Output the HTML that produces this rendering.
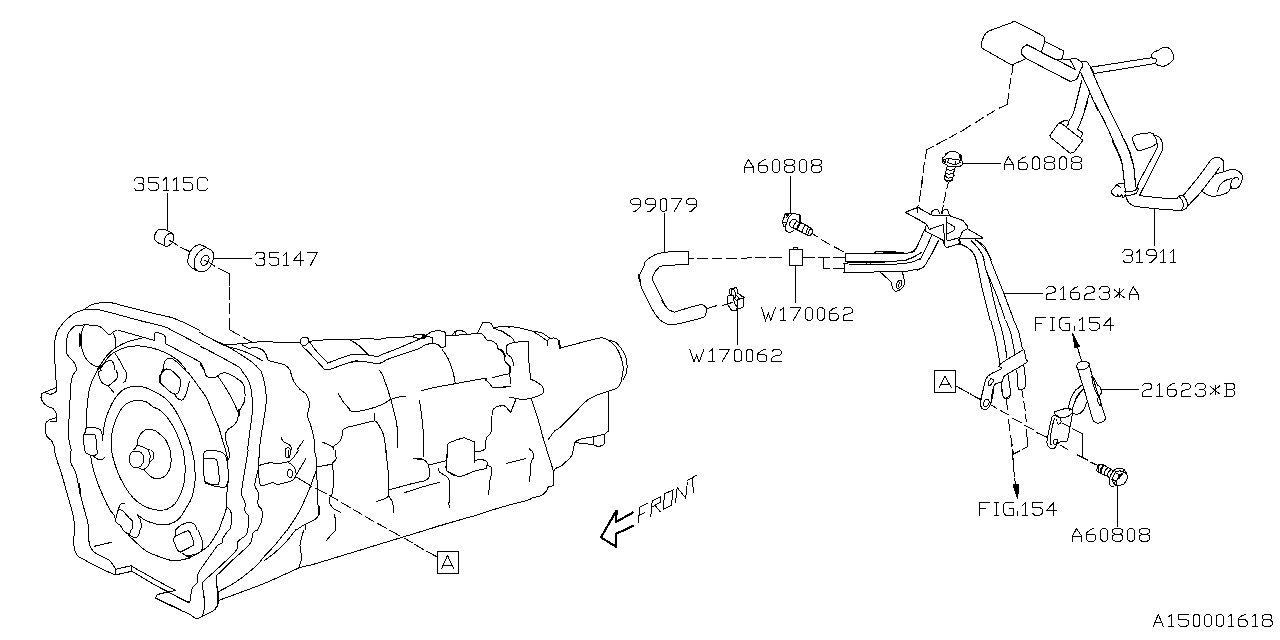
<!DOCTYPE html>
<html><head><meta charset="utf-8"><title>Diagram</title>
<style>
html,body{margin:0;padding:0;background:#fff;}
body{width:1280px;height:640px;overflow:hidden;font-family:"Liberation Sans",sans-serif;}
svg{display:block}
.l{fill:none;stroke:#000;stroke-width:1;stroke-linecap:round;stroke-linejoin:round;shape-rendering:crispEdges}
.k2{stroke-width:2}
.k3{stroke-width:2.6}
.d{stroke-dasharray:7 3}
.f{fill:#000}
.ar{stroke-width:2.2;stroke-linejoin:miter;stroke-linecap:butt}
.t{stroke-linecap:square;stroke-linejoin:miter}
</style></head><body>
<svg width="1280" height="640" viewBox="0 0 1280 640">
<path class="l " d="M55.62,370.00C55.48,368.33 54.96,364.17 54.75,360.00C54.54,355.83 54.02,349.58 54.38,345.00C54.73,340.42 55.52,336.04 56.88,332.50C58.23,328.96 59.90,326.77 62.50,323.75C65.10,320.73 70.00,316.35 72.50,314.38C75.00,312.40 75.73,312.60 77.50,311.88C79.27,311.15 80.83,311.15 83.12,310.00C85.42,308.85 88.23,306.25 91.25,305.00C94.27,303.75 98.12,302.92 101.25,302.50C104.38,302.08 105.62,301.77 110.00,302.50C114.38,303.23 120.42,305.10 127.50,306.88C134.58,308.65 145.21,311.35 152.50,313.12C159.79,314.90 166.04,315.94 171.25,317.50C176.46,319.06 178.96,320.31 183.75,322.50C188.54,324.69 197.29,329.27 200.00,330.62 M77.50,311.88C78.44,311.56 81.46,310.42 83.12,310.00C84.79,309.58 85.31,309.48 87.50,309.38C89.69,309.27 92.50,308.85 96.25,309.38C100.00,309.90 102.71,310.62 110.00,312.50C117.29,314.38 130.83,318.23 140.00,320.62C149.17,323.02 159.79,325.31 165.00,326.88C170.21,328.44 165.42,326.98 171.25,330.00C177.08,333.02 195.21,342.50 200.00,345.00 M76.25,370.00C76.04,368.96 76.56,366.46 75.00,363.75C73.44,361.04 68.33,357.08 66.88,353.75C65.42,350.42 66.04,347.08 66.25,343.75C66.46,340.42 67.08,336.35 68.12,333.75C69.17,331.15 70.94,329.52 72.50,328.12C74.06,326.73 73.75,325.83 77.50,325.38C81.25,324.92 91.04,325.02 95.00,325.38C98.96,325.73 99.06,326.06 101.25,327.50C103.44,328.94 106.46,332.96 108.12,334.00C109.79,335.04 110.52,334.00 111.25,333.75C111.98,333.50 112.29,332.71 112.50,332.50C113.12,332.12 115.00,330.56 116.25,330.25C117.50,329.94 115.42,329.42 120.00,330.62C124.58,331.83 138.23,335.94 143.75,337.50C149.27,339.06 151.56,339.58 153.12,340.00L154.75,340.25L155.00,333.12C155.42,333.02 156.04,332.19 157.50,332.50C158.96,332.81 162.40,334.17 163.75,335.00C165.10,335.83 165.31,337.08 165.62,337.50L165.62,343.75L200.00,361.88 M84.38,325.62C83.96,326.56 82.40,328.02 81.88,331.25C81.35,334.48 81.04,341.46 81.25,345.00C81.46,348.54 82.19,350.00 83.12,352.50C84.06,355.00 85.10,357.81 86.88,360.00C88.65,362.19 91.88,364.54 93.75,365.62C95.62,366.71 97.40,366.35 98.12,366.50 M96.88,370.00C97.60,368.96 99.48,366.25 101.25,363.75C103.02,361.25 105.00,357.71 107.50,355.00C110.00,352.29 112.92,349.69 116.25,347.50C119.58,345.31 122.92,343.54 127.50,341.88C132.08,340.21 141.04,338.23 143.75,337.50 M100.00,370.00C101.25,368.02 105.00,361.15 107.50,358.12C110.00,355.10 111.67,353.75 115.00,351.88C118.33,350.00 123.33,347.85 127.50,346.88C131.67,345.90 135.83,345.79 140.00,346.00C144.17,346.21 148.33,347.04 152.50,348.12C156.67,349.21 160.83,350.52 165.00,352.50C169.17,354.48 173.96,357.08 177.50,360.00C181.04,362.92 184.79,368.33 186.25,370.00 M112.50,332.50C112.92,333.33 114.42,335.00 115.00,337.50C115.58,340.00 115.83,345.83 116.00,347.50 M115.00,353.12C115.83,354.48 118.44,358.44 120.00,361.25C121.56,364.06 123.65,368.54 124.38,370.00 M97.50,370.00C98.33,369.17 100.83,366.46 102.50,365.00C104.17,363.54 106.04,361.98 107.50,361.25C108.96,360.52 110.21,360.21 111.25,360.62C112.29,361.04 113.12,362.19 113.75,363.75C114.38,365.31 114.79,368.96 115.00,370.00 M163.12,370.00C163.44,368.54 163.75,363.23 165.00,361.25C166.25,359.27 168.54,357.92 170.62,358.12C172.71,358.33 175.10,360.52 177.50,362.50C179.90,364.48 183.75,368.75 185.00,370.00 M55.62,370.00C55.67,371.25 55.73,374.58 55.88,377.50C56.02,380.42 56.40,385.83 56.50,387.50L41.88,393.38C41.73,394.06 40.79,395.98 41.00,397.50C41.21,399.02 42.04,401.04 43.12,402.50C44.21,403.96 45.83,405.21 47.50,406.25C49.17,407.29 51.71,407.60 53.12,408.75C54.54,409.90 55.44,411.67 56.00,413.12C56.56,414.58 56.42,416.77 56.50,417.50C55.21,417.96 50.56,419.21 48.75,420.25C46.94,421.29 46.21,422.12 45.62,423.75C45.04,425.38 45.04,427.92 45.25,430.00C45.46,432.08 45.77,434.38 46.88,436.25C47.98,438.12 50.62,439.38 51.88,441.25C53.12,443.12 53.85,446.04 54.38,447.50C54.90,448.96 54.90,449.58 55.00,450.00 M56.50,387.50C56.46,388.12 56.92,390.21 56.25,391.25C55.58,392.29 53.75,393.29 52.50,393.75C51.25,394.21 50.00,394.17 48.75,394.00C47.50,393.83 45.62,392.96 45.00,392.75 M56.50,417.50L56.50,421.50L50.62,421.50 M76.88,370.00C76.15,371.04 73.54,373.54 72.50,376.25C71.46,378.96 71.08,381.04 70.62,386.25C70.17,391.46 70.10,400.62 69.75,407.50C69.40,414.38 68.67,422.29 68.50,427.50C68.33,432.71 68.29,435.00 68.75,438.75C69.21,442.50 70.83,448.12 71.25,450.00 M97.50,370.00C96.67,371.67 93.96,376.25 92.50,380.00C91.04,383.75 89.69,387.50 88.75,392.50C87.81,397.50 87.33,403.96 86.88,410.00C86.42,416.04 86.15,425.62 86.00,428.75 M86.00,428.75C86.46,428.54 87.25,427.67 88.75,427.50C90.25,427.33 93.02,427.33 95.00,427.75C96.98,428.17 99.42,428.79 100.62,430.00C101.83,431.21 101.94,433.23 102.25,435.00C102.56,436.77 102.46,439.69 102.50,440.62 M86.00,428.75C85.83,429.38 85.38,431.50 85.00,432.50C84.62,433.50 83.96,434.38 83.75,434.75L95.00,434.75C95.21,435.62 95.94,437.46 96.25,440.00C96.56,442.54 96.77,448.33 96.88,450.00 M83.75,434.75C83.71,435.62 83.33,437.46 83.50,440.00C83.67,442.54 84.54,448.33 84.75,450.00 M102.50,440.62C102.71,438.65 103.12,432.60 103.75,428.75C104.38,424.90 105.00,421.46 106.25,417.50C107.50,413.54 109.38,408.75 111.25,405.00C113.12,401.25 115.21,397.71 117.50,395.00C119.79,392.29 122.19,390.21 125.00,388.75C127.81,387.29 131.04,386.46 134.38,386.25C137.71,386.04 141.56,386.56 145.00,387.50C148.44,388.44 151.67,390.10 155.00,391.88C158.33,393.65 162.08,395.73 165.00,398.12C167.92,400.52 170.00,402.81 172.50,406.25C175.00,409.69 177.71,414.38 180.00,418.75C182.29,423.12 184.69,428.75 186.25,432.50C187.81,436.25 188.75,439.38 189.38,441.25C190.00,443.12 189.90,443.33 190.00,443.75 M111.25,450.00C111.25,448.33 111.04,443.33 111.25,440.00C111.46,436.67 111.67,433.54 112.50,430.00C113.33,426.46 114.58,422.50 116.25,418.75C117.92,415.00 120.21,410.31 122.50,407.50C124.79,404.69 127.40,403.06 130.00,401.88C132.60,400.69 135.42,400.38 138.12,400.38C140.83,400.38 143.75,400.79 146.25,401.88C148.75,402.96 150.83,405.48 153.12,406.88C155.42,408.27 157.81,408.69 160.00,410.25C162.19,411.81 163.96,413.38 166.25,416.25C168.54,419.12 171.56,423.54 173.75,427.50C175.94,431.46 177.92,436.25 179.38,440.00C180.83,443.75 181.98,448.33 182.50,450.00 M133.75,450.00C134.33,449.17 136.52,446.88 137.25,445.00C137.98,443.12 137.35,440.83 138.12,438.75C138.90,436.67 140.31,434.10 141.88,432.50C143.44,430.90 145.31,429.44 147.50,429.12C149.69,428.81 152.92,429.75 155.00,430.62C157.08,431.50 158.33,433.02 160.00,434.38C161.67,435.73 163.65,436.98 165.00,438.75C166.35,440.52 167.29,443.12 168.12,445.00C168.96,446.88 169.69,449.17 170.00,450.00 M137.25,445.62C137.92,445.73 139.75,445.73 141.25,446.25C142.75,446.77 144.79,448.12 146.25,448.75C147.71,449.38 149.38,449.79 150.00,450.00 M101.88,370.00C101.56,370.21 100.62,370.73 100.00,371.25C99.38,371.77 97.81,371.25 98.12,373.12C98.44,375.00 100.21,380.35 101.88,382.50C103.54,384.65 106.15,384.33 108.12,386.00C110.10,387.67 112.81,391.42 113.75,392.50 M108.12,386.00C109.48,384.90 114.69,381.21 116.25,379.38C117.81,377.54 117.50,376.56 117.50,375.00C117.50,373.44 116.46,370.83 116.25,370.00 M125.62,370.00C125.77,370.94 126.50,373.85 126.50,375.62C126.50,377.40 126.19,379.48 125.62,380.62C125.06,381.77 123.54,382.19 123.12,382.50 M162.50,370.00L160.00,376.25 M160.00,382.50C161.88,384.17 168.23,390.73 171.25,392.50C174.27,394.27 176.56,394.79 178.12,393.12C179.69,391.46 180.31,384.90 180.62,382.50C180.94,380.10 181.56,380.83 180.00,378.75C178.44,376.67 172.71,371.46 171.25,370.00 M174.38,394.38C175.10,395.21 177.29,398.54 178.75,399.38C180.21,400.21 181.88,400.31 183.12,399.38C184.38,398.44 185.31,396.35 186.25,393.75C187.19,391.15 188.12,385.83 188.75,383.75C189.38,381.67 189.79,381.67 190.00,381.25 M185.00,370.00L190.00,374.38 M190.00,375.00C191.25,376.67 194.79,381.25 197.50,385.00C200.21,388.75 203.75,392.92 206.25,397.50C208.75,402.08 210.42,407.50 212.50,412.50C214.58,417.50 216.98,422.50 218.75,427.50C220.52,432.50 221.98,438.75 223.12,442.50C224.27,446.25 225.21,448.75 225.62,450.00 M204.38,370.00C204.58,370.83 204.90,373.75 205.62,375.00C206.35,376.25 206.98,377.19 208.75,377.50C210.52,377.81 214.17,377.54 216.25,376.88C218.33,376.21 219.38,374.08 221.25,373.50C223.12,372.92 224.38,372.19 227.50,373.38C230.62,374.56 237.25,378.48 240.00,380.62C242.75,382.77 243.21,383.02 244.00,386.25C244.79,389.48 245.21,396.46 244.75,400.00C244.29,403.54 242.15,405.62 241.25,407.50C240.35,409.38 240.10,408.96 239.38,411.25C238.65,413.54 238.02,418.75 236.88,421.25C235.73,423.75 234.06,424.79 232.50,426.25C230.94,427.71 228.69,428.54 227.50,430.00C226.31,431.46 225.58,432.92 225.38,435.00C225.17,437.08 225.79,440.42 226.25,442.50C226.71,444.58 227.75,446.25 228.12,447.50C228.50,448.75 228.44,449.58 228.50,450.00 M217.50,375.62C218.96,377.81 223.54,384.27 226.25,388.75C228.96,393.23 231.77,398.54 233.75,402.50C235.73,406.46 237.40,410.83 238.12,412.50 M241.25,370.00C242.50,371.88 246.98,377.08 248.75,381.25C250.52,385.42 251.29,389.79 251.88,395.00C252.46,400.21 252.56,406.67 252.25,412.50C251.94,418.33 250.79,423.75 250.00,430.00C249.21,436.25 247.92,446.67 247.50,450.00 M260.62,370.00C261.25,372.08 263.44,377.50 264.38,382.50C265.31,387.50 266.35,393.75 266.25,400.00C266.15,406.25 264.58,414.17 263.75,420.00C262.92,425.83 262.02,430.00 261.25,435.00C260.48,440.00 259.48,447.50 259.12,450.00 M290.00,370.00C290.62,371.88 292.19,378.12 293.75,381.25C295.31,384.38 297.29,386.56 299.38,388.75C301.46,390.94 304.58,392.08 306.25,394.38C307.92,396.67 308.96,399.90 309.38,402.50C309.79,405.10 309.10,407.81 308.75,410.00C308.40,412.19 306.94,413.12 307.25,415.62C307.56,418.12 309.54,421.35 310.62,425.00C311.71,428.65 313.02,433.33 313.75,437.50C314.48,441.67 314.79,447.92 315.00,450.00 M338.12,393.12C339.06,394.69 341.77,399.79 343.75,402.50C345.73,405.21 348.96,408.23 350.00,409.38 M281.25,437.50C281.56,438.12 281.88,440.10 283.12,441.25C284.38,442.40 287.40,443.33 288.75,444.38C290.10,445.42 290.73,446.56 291.25,447.50C291.77,448.44 291.77,449.58 291.88,450.00 M303.75,440.25L296.88,450.00 M322.50,442.12C324.17,442.92 330.62,445.56 332.50,446.88C334.38,448.19 333.54,449.48 333.75,450.00 M332.50,446.88C333.65,446.04 337.81,443.65 339.38,441.88C340.94,440.10 341.25,438.23 341.88,436.25C342.50,434.27 342.40,431.42 343.12,430.00C343.85,428.58 345.10,428.33 346.25,427.75C347.40,427.17 349.38,426.71 350.00,426.50 M190.00,441.88L191.88,450.00 M54.38,450.00C54.79,451.67 55.62,455.83 56.88,460.00C58.12,464.17 60.10,469.17 61.88,475.00C63.65,480.83 65.73,488.75 67.50,495.00C69.27,501.25 71.35,507.71 72.50,512.50C73.65,517.29 74.06,520.83 74.38,523.75C74.69,526.67 74.38,528.96 74.38,530.00 M71.25,450.00C71.08,451.04 70.25,453.96 70.25,456.25C70.25,458.54 70.35,461.04 71.25,463.75C72.15,466.46 74.48,469.17 75.62,472.50C76.77,475.83 77.40,480.42 78.12,483.75C78.85,487.08 79.06,488.54 80.00,492.50C80.94,496.46 82.50,502.71 83.75,507.50C85.00,512.29 86.67,517.50 87.50,521.25C88.33,525.00 88.54,528.54 88.75,530.00 M84.75,450.00C85.00,450.52 85.17,452.25 86.25,453.12C87.33,454.00 89.48,455.04 91.25,455.25C93.02,455.46 95.79,455.25 96.88,454.38C97.96,453.50 97.60,450.73 97.75,450.00 M92.50,455.62C93.33,456.19 95.83,458.38 97.50,459.00C99.17,459.62 101.29,459.67 102.50,459.38C103.71,459.08 104.38,457.60 104.75,457.25 M90.62,455.62C90.94,457.40 91.35,461.77 92.50,466.25C93.65,470.73 95.62,477.29 97.50,482.50C99.38,487.71 101.67,492.92 103.75,497.50C105.83,502.08 108.23,506.98 110.00,510.00C111.77,513.02 113.44,513.75 114.38,515.62C115.31,517.50 115.42,520.31 115.62,521.25 M111.25,450.00C111.77,452.08 112.92,457.92 114.38,462.50C115.83,467.08 117.60,472.50 120.00,477.50C122.40,482.50 125.83,488.44 128.75,492.50C131.67,496.56 134.17,499.27 137.50,501.88C140.83,504.48 145.21,506.73 148.75,508.12C152.29,509.52 155.62,510.10 158.75,510.25C161.88,510.40 164.79,510.08 167.50,509.00C170.21,507.92 172.81,506.29 175.00,503.75C177.19,501.21 179.06,497.50 180.62,493.75C182.19,490.00 183.65,486.04 184.38,481.25C185.10,476.46 185.21,470.21 185.00,465.00C184.79,459.79 183.44,452.50 183.12,450.00 M170.62,450.00C170.69,452.08 171.31,458.96 171.00,462.50C170.69,466.04 169.96,468.85 168.75,471.25C167.54,473.65 165.62,475.62 163.75,476.88C161.88,478.12 159.58,478.75 157.50,478.75C155.42,478.75 153.54,478.44 151.25,476.88C148.96,475.31 145.00,470.62 143.75,469.38 M136.25,451.00C137.08,451.25 140.00,451.17 141.25,452.50C142.50,453.83 143.75,456.81 143.75,459.00C143.75,461.19 142.50,464.21 141.25,465.62C140.00,467.04 137.92,467.50 136.25,467.50C134.58,467.50 132.44,467.04 131.25,465.62C130.06,464.21 129.12,461.19 129.12,459.00C129.12,456.81 130.06,453.83 131.25,452.50C132.44,451.17 135.42,451.25 136.25,451.00 M138.12,467.50C138.85,467.81 140.94,469.48 142.50,469.38C144.06,469.27 146.25,468.12 147.50,466.88C148.75,465.62 149.06,463.23 150.00,461.88C150.94,460.52 152.50,460.10 153.12,458.75C153.75,457.40 154.06,455.21 153.75,453.75C153.44,452.29 151.67,450.62 151.25,450.00 M148.12,450.00C148.44,450.83 149.73,452.92 150.00,455.00C150.27,457.08 149.79,461.25 149.75,462.50 M124.75,503.38C124.17,503.44 122.25,502.96 121.25,503.75C120.25,504.54 119.69,505.21 118.75,508.12C117.81,511.04 115.42,518.44 115.62,521.25C115.83,524.06 118.75,523.54 120.00,525.00C121.25,526.46 122.60,529.17 123.12,530.00 M118.75,508.75C119.48,509.17 121.46,509.79 123.12,511.25C124.79,512.71 127.15,515.73 128.75,517.50C130.35,519.27 132.23,519.79 132.75,521.88C133.27,523.96 132.02,528.65 131.88,530.00 M140.62,530.00C140.73,529.17 141.35,526.77 141.25,525.00C141.15,523.23 140.62,521.04 140.00,519.38C139.38,517.71 136.67,514.90 137.50,515.00C138.33,515.10 142.08,518.54 145.00,520.00C147.92,521.46 151.67,522.96 155.00,523.75C158.33,524.54 161.88,524.96 165.00,524.75C168.12,524.54 171.25,523.71 173.75,522.50C176.25,521.29 178.12,519.58 180.00,517.50C181.88,515.42 183.33,512.71 185.00,510.00C186.67,507.29 189.17,502.71 190.00,501.25 M175.62,530.00C176.56,529.17 178.85,526.35 181.25,525.00C183.65,523.65 188.54,522.40 190.00,521.88 M191.88,450.00C192.29,452.08 193.85,457.29 194.38,462.50C194.90,467.71 195.31,475.83 195.00,481.25C194.69,486.67 193.33,491.56 192.50,495.00C191.67,498.44 190.42,500.73 190.00,501.88 M203.75,457.50C203.71,456.88 203.08,454.83 203.50,453.75C203.92,452.67 204.33,451.52 206.25,451.00C208.17,450.48 212.29,450.38 215.00,450.62C217.71,450.88 220.73,451.56 222.50,452.50C224.27,453.44 224.83,454.58 225.62,456.25C226.42,457.92 226.98,461.46 227.25,462.50 M203.75,457.50C203.85,461.25 203.54,475.52 204.38,480.00C205.21,484.48 205.94,483.17 208.75,484.38C211.56,485.58 218.33,486.94 221.25,487.25C224.17,487.56 225.21,487.25 226.25,486.25C227.29,485.25 227.29,482.08 227.50,481.25 M204.00,458.75C205.00,458.65 208.06,458.02 210.00,458.12C211.94,458.23 214.33,458.44 215.62,459.38C216.92,460.31 217.19,459.90 217.75,463.75C218.31,467.60 219.35,479.06 219.00,482.50C218.65,485.94 217.12,484.12 215.62,484.38C214.12,484.62 211.67,484.42 210.00,484.00C208.33,483.58 206.35,482.23 205.62,481.88 M225.62,450.00C225.94,451.67 227.08,454.79 227.50,460.00C227.92,465.21 228.23,475.62 228.12,481.25C228.02,486.88 227.15,489.38 226.88,493.75C226.60,498.12 227.23,503.12 226.50,507.50C225.77,511.88 223.75,516.25 222.50,520.00C221.25,523.75 219.58,528.33 219.00,530.00 M228.12,450.00C228.40,450.83 229.69,453.44 229.75,455.00C229.81,456.56 228.71,458.65 228.50,459.38 M226.50,506.25C227.19,507.08 229.73,509.38 230.62,511.25C231.52,513.12 231.88,514.79 231.88,517.50C231.88,520.21 231.04,525.42 230.62,527.50C230.21,529.58 229.58,529.58 229.38,530.00 M248.12,450.00C247.60,453.12 246.04,462.29 245.00,468.75C243.96,475.21 242.50,484.58 241.88,488.75C241.25,492.92 240.73,491.46 241.25,493.75C241.77,496.04 244.38,499.58 245.00,502.50C245.62,505.42 244.38,508.96 245.00,511.25C245.62,513.54 248.17,513.96 248.75,516.25C249.33,518.54 248.71,522.71 248.50,525.00C248.29,527.29 247.67,529.17 247.50,530.00 M260.00,450.00C259.69,452.50 258.44,461.67 258.12,465.00C257.81,468.33 258.69,466.67 258.12,470.00C257.56,473.33 254.75,481.25 254.75,485.00C254.75,488.75 257.56,489.17 258.12,492.50C258.69,495.83 257.50,502.08 258.12,505.00C258.75,507.92 261.31,507.29 261.88,510.00C262.44,512.71 262.23,517.92 261.50,521.25C260.77,524.58 258.17,528.54 257.50,530.00 M258.12,465.62C260.31,465.10 268.44,462.77 271.25,462.50C274.06,462.23 272.29,464.10 275.00,464.00C277.71,463.90 284.69,462.65 287.50,461.88C290.31,461.10 290.00,461.35 291.88,459.38C293.75,457.40 297.60,451.56 298.75,450.00 M258.50,470.00C258.71,472.29 258.88,481.21 259.75,483.75C260.62,486.29 261.62,485.42 263.75,485.25C265.88,485.08 270.21,482.90 272.50,482.75C274.79,482.60 274.79,484.52 277.50,484.38C280.21,484.23 286.15,482.60 288.75,481.88C291.35,481.15 291.92,481.15 293.12,480.00C294.33,478.85 295.69,476.88 296.00,475.00C296.31,473.12 295.79,470.52 295.00,468.75C294.21,466.98 292.40,465.42 291.25,464.38C290.10,463.33 288.65,462.81 288.12,462.50 M290.00,469.50C290.38,469.79 291.83,470.44 292.25,471.25C292.67,472.06 292.67,473.38 292.50,474.38C292.33,475.38 291.77,476.73 291.25,477.25C290.73,477.77 289.96,477.77 289.38,477.50C288.79,477.23 288.06,476.46 287.75,475.62C287.44,474.79 287.38,473.44 287.50,472.50C287.62,471.56 288.08,470.50 288.50,470.00C288.92,469.50 289.75,469.58 290.00,469.50 M285.62,448.50C285.56,449.17 285.19,451.10 285.25,452.50C285.31,453.90 285.31,456.08 286.00,456.88C286.69,457.67 288.67,457.98 289.38,457.25C290.08,456.52 290.19,453.96 290.25,452.50C290.31,451.04 290.17,449.29 289.75,448.50C289.33,447.71 288.44,447.75 287.75,447.75C287.06,447.75 285.98,448.38 285.62,448.50 M288.75,450.62L288.75,456.25 M305.62,459.00L296.25,475.00 M314.38,450.00C314.79,452.08 316.56,458.75 316.88,462.50C317.19,466.25 316.10,468.33 316.25,472.50C316.40,476.67 317.54,482.50 317.75,487.50C317.96,492.50 317.23,498.96 317.50,502.50C317.77,506.04 319.17,506.67 319.38,508.75C319.58,510.83 319.48,513.23 318.75,515.00C318.02,516.77 317.29,517.81 315.00,519.38C312.71,520.94 308.12,522.60 305.00,524.38C301.88,526.15 297.71,529.06 296.25,530.00 M316.88,466.88C318.65,466.56 324.90,465.52 327.50,465.00C330.10,464.48 331.67,463.96 332.50,463.75 M335.00,450.00C335.17,451.46 336.42,456.46 336.00,458.75C335.58,461.04 332.92,461.04 332.50,463.75C332.08,466.46 333.50,470.21 333.50,475.00C333.50,479.79 333.12,488.75 332.50,492.50C331.88,496.25 330.17,495.62 329.75,497.50C329.33,499.38 329.33,501.88 330.00,503.75C330.67,505.62 331.98,507.35 333.75,508.75C335.52,510.15 339.48,511.56 340.62,512.12 M315.62,471.88C314.69,474.48 312.60,481.15 310.00,487.50C307.40,493.85 303.75,502.92 300.00,510.00C296.25,517.08 289.58,526.67 287.50,530.00 M305.00,524.38L305.62,530.00 M334.38,514.38C334.58,515.52 335.42,518.65 335.62,521.25C335.83,523.85 335.62,528.54 335.62,530.00 M190.00,522.50C190.62,522.71 192.75,523.02 193.75,523.75C194.75,524.48 195.58,525.83 196.00,526.88C196.42,527.92 196.21,529.48 196.25,530.00 M74.75,530.00C74.58,531.67 73.81,536.88 73.75,540.00C73.69,543.12 73.75,546.15 74.38,548.75C75.00,551.35 75.94,553.85 77.50,555.62C79.06,557.40 80.83,557.71 83.75,559.38C86.67,561.04 89.79,563.02 95.00,565.62C100.21,568.23 111.67,573.44 115.00,575.00L131.88,571.25L131.25,565.62L115.62,569.38L115.00,575.00 M88.50,530.00C88.54,531.67 88.29,536.88 88.75,540.00C89.21,543.12 89.79,546.35 91.25,548.75C92.71,551.15 94.58,552.50 97.50,554.38C100.42,556.25 106.15,558.23 108.75,560.00C111.35,561.77 111.98,563.44 113.12,565.00C114.27,566.56 115.21,568.65 115.62,569.38 M94.38,546.25L111.88,542.25 M131.25,566.00C135.21,568.23 147.60,575.27 155.00,579.38C162.40,583.48 172.19,588.75 175.62,590.62C174.17,590.90 169.90,591.56 166.88,592.25C163.85,592.94 159.38,593.77 157.50,594.75C155.62,595.73 155.94,597.56 155.62,598.12L181.25,610.00 M131.88,571.25C135.73,573.54 149.17,581.67 155.00,585.00C160.83,588.33 161.67,588.54 166.88,591.25C172.08,593.96 182.40,599.54 186.25,601.25C190.10,602.96 189.38,601.46 190.00,601.50 M123.12,530.00C123.85,530.62 126.35,533.23 127.50,533.75C128.65,534.27 129.48,533.75 130.00,533.12C130.52,532.50 130.52,530.52 130.62,530.00 M127.50,533.75C128.54,534.38 132.08,536.98 133.75,537.50C135.42,538.02 136.56,537.71 137.50,536.88C138.44,536.04 138.96,533.65 139.38,532.50C139.79,531.35 139.90,530.42 140.00,530.00 M128.75,535.62C130.21,536.98 134.38,541.04 137.50,543.75C140.62,546.46 143.75,549.69 147.50,551.88C151.25,554.06 156.04,555.46 160.00,556.88C163.96,558.29 167.71,559.85 171.25,560.38C174.79,560.90 178.12,560.38 181.25,560.00C184.38,559.62 188.54,558.44 190.00,558.12 M150.00,553.12C151.67,553.75 156.46,555.67 160.00,556.88C163.54,558.08 167.71,559.85 171.25,560.38C174.79,560.90 177.92,560.58 181.25,560.00C184.58,559.42 188.12,558.23 191.25,556.88C194.38,555.52 197.19,553.65 200.00,551.88C202.81,550.10 205.62,548.85 208.12,546.25C210.62,543.65 213.23,538.96 215.00,536.25C216.77,533.54 218.12,531.04 218.75,530.00 M175.62,530.00L175.00,536.25L173.12,539.38C173.75,540.94 175.73,546.60 176.88,548.75C178.02,550.90 179.48,551.67 180.00,552.25L193.12,545.62C193.23,545.10 194.27,544.69 193.75,542.50C193.23,540.31 191.04,534.48 190.00,532.50C188.96,530.52 187.92,530.94 187.50,530.62L175.00,536.25 M182.50,553.12C182.92,553.44 183.33,554.69 185.00,555.00C186.67,555.31 190.42,555.21 192.50,555.00C194.58,554.79 195.94,554.58 197.50,553.75C199.06,552.92 201.00,551.88 201.88,550.00C202.75,548.12 203.06,545.00 202.75,542.50C202.44,540.00 200.77,537.08 200.00,535.00C199.23,532.92 198.44,530.83 198.12,530.00 M186.25,556.25L191.25,556.88 M228.75,530.00C228.12,530.83 226.04,533.44 225.00,535.00C223.96,536.56 223.02,538.02 222.50,539.38C221.98,540.73 222.71,542.08 221.88,543.12C221.04,544.17 219.06,544.06 217.50,545.62C215.94,547.19 214.38,549.90 212.50,552.50C210.62,555.10 208.65,557.71 206.25,561.25C203.85,564.79 199.62,570.21 198.12,573.75C196.62,577.29 198.19,580.21 197.25,582.50C196.31,584.79 193.60,585.21 192.50,587.50C191.40,589.79 191.04,593.96 190.62,596.25C190.21,598.54 190.62,600.31 190.00,601.25C189.38,602.19 190.10,603.23 186.88,601.88C183.65,600.52 173.33,594.58 170.62,593.12 M247.50,530.00C247.29,530.83 247.60,533.33 246.25,535.00C244.90,536.67 240.83,538.75 239.38,540.00C237.92,541.25 237.92,540.94 237.50,542.50C237.08,544.06 238.12,546.98 236.88,549.38C235.62,551.77 233.23,553.65 230.00,556.88C226.77,560.10 221.88,564.69 217.50,568.75C213.12,572.81 206.29,578.54 203.75,581.25C201.21,583.96 202.21,582.50 202.25,585.00C202.29,587.50 203.65,592.08 204.00,596.25C204.35,600.42 204.31,607.71 204.38,610.00 M256.88,530.00C256.15,530.62 253.44,531.77 252.50,533.75C251.56,535.73 252.71,539.17 251.25,541.88C249.79,544.58 247.29,546.56 243.75,550.00C240.21,553.44 233.96,558.75 230.00,562.50C226.04,566.25 222.29,570.10 220.00,572.50C217.71,574.90 216.77,574.38 216.25,576.88C215.73,579.38 216.56,584.90 216.88,587.50C217.19,590.10 217.96,589.58 218.12,592.50C218.29,595.42 218.50,602.08 217.88,605.00C217.25,607.92 214.96,609.17 214.38,610.00 M286.88,530.00C284.90,532.50 278.65,540.73 275.00,545.00C271.35,549.27 267.71,552.60 265.00,555.62C262.29,558.65 261.25,560.52 258.75,563.12C256.25,565.73 253.96,568.02 250.00,571.25C246.04,574.48 240.31,579.06 235.00,582.50C229.69,585.94 220.94,590.31 218.12,591.88 M295.62,530.00C293.85,532.19 288.44,539.38 285.00,543.12C281.56,546.88 278.44,549.58 275.00,552.50C271.56,555.42 266.15,559.27 264.38,560.62 M303.75,530.00C303.12,532.50 300.35,540.42 300.00,545.00C299.65,549.58 301.83,553.65 301.62,557.50C301.42,561.35 299.23,566.35 298.75,568.12 M218.12,600.62C225.94,597.71 251.56,588.54 265.00,583.12C278.44,577.71 291.25,571.08 298.75,568.12C306.25,565.17 308.12,565.83 310.00,565.38 M155.62,598.50C157.40,599.33 162.19,601.58 166.25,603.50C170.31,605.42 176.04,608.19 180.00,610.00C183.96,611.81 187.71,613.17 190.00,614.38C192.29,615.58 192.50,616.56 193.75,617.25C195.00,617.94 196.04,618.67 197.50,618.50C198.96,618.33 201.67,616.62 202.50,616.25 M202.50,616.25C202.81,614.79 204.17,611.04 204.38,607.50C204.58,603.96 204.10,598.75 203.75,595.00C203.40,591.25 202.35,587.19 202.25,585.00C202.15,582.81 202.98,582.40 203.12,581.88 M202.50,616.25C204.17,615.42 210.10,612.92 212.50,611.25C214.90,609.58 216.00,608.12 216.88,606.25C217.75,604.38 217.65,602.92 217.75,600.00C217.85,597.08 217.75,591.67 217.50,588.75C217.25,585.83 216.42,584.58 216.25,582.50C216.08,580.42 216.46,577.29 216.50,576.25 M800.43,222.22C800.43,221.49 800.57,219.03 800.43,217.85C800.29,216.66 800.06,215.70 799.61,215.11C799.15,214.52 799.20,214.56 797.69,214.29C796.19,214.02 792.63,213.47 790.58,213.47C788.53,213.47 786.52,213.47 785.39,214.29C784.25,215.11 784.25,217.25 783.74,218.39C783.24,219.53 782.60,220.26 782.38,221.13C782.15,222.00 782.19,223.04 782.38,223.59C782.56,224.14 783.29,223.91 783.47,224.41C783.65,224.91 783.20,226.19 783.47,226.60C783.74,227.01 784.75,226.33 785.11,226.87C785.48,227.42 785.34,229.11 785.66,229.88C785.98,230.66 786.34,231.11 787.03,231.52C787.71,231.93 788.85,232.34 789.76,232.34C790.67,232.34 791.77,231.89 792.50,231.52C793.23,231.16 793.86,230.38 794.14,230.16 M791.95,214.29C791.45,214.79 789.72,216.16 788.94,217.30C788.17,218.44 787.76,220.04 787.30,221.13C786.84,222.22 786.52,222.91 786.21,223.86C785.89,224.82 785.52,226.37 785.39,226.87 M788.94,214.02L786.75,217.30 M783.74,222.50L786.21,223.04 M796.87,221.68C796.83,221.45 797.10,220.72 796.60,220.31C796.10,219.90 794.73,219.21 793.86,219.21C793.00,219.21 792.09,219.67 791.40,220.31C790.72,220.95 790.04,222.18 789.76,223.04C789.49,223.91 789.49,224.78 789.76,225.51C790.04,226.23 790.81,227.01 791.40,227.42C792.00,227.83 793.00,227.88 793.32,227.97 M796.60,221.68C797.42,221.90 799.70,222.31 801.52,223.04C803.35,223.77 805.99,225.19 807.54,226.05C809.09,226.92 809.96,227.51 810.82,228.24C811.69,228.97 812.46,229.79 812.74,230.43C813.01,231.07 812.78,231.34 812.46,232.07C812.14,232.80 811.46,234.21 810.82,234.81C810.18,235.40 809.36,235.63 808.63,235.63C807.91,235.63 807.54,235.35 806.45,234.81C805.35,234.26 803.62,233.16 802.07,232.34C800.52,231.52 798.61,230.61 797.15,229.88C795.69,229.15 793.96,228.29 793.32,227.97 M796.05,221.95C795.69,222.54 794.27,224.50 793.86,225.51C793.45,226.51 793.64,227.56 793.59,227.97 M805.08,225.51C804.71,226.14 803.39,228.24 802.89,229.33C802.39,230.43 802.21,231.61 802.07,232.07 M808.63,227.15C808.27,227.78 806.90,229.79 806.45,230.98C805.99,232.16 805.99,233.71 805.90,234.26 M810.82,228.24C810.46,228.88 809.14,230.93 808.63,232.07C808.13,233.21 807.95,234.58 807.81,235.08 M945.03,153.20L945.85,155.11L946.94,153.47L950.22,151.28L953.51,151.28L957.61,152.65L959.52,154.56L961.44,156.21L961.71,159.76 M945.03,153.20C945.07,153.61 945.76,154.79 945.30,155.66C944.84,156.52 942.79,157.48 942.29,158.39C941.79,159.31 942.11,160.31 942.29,161.13C942.47,161.95 942.70,162.72 943.39,163.32C944.07,163.91 945.71,164.23 946.39,164.68C947.08,165.14 947.31,165.82 947.49,166.05 M943.66,159.76C943.84,159.67 944.39,158.99 944.75,159.21C945.12,159.44 945.76,160.58 945.85,161.13C945.94,161.68 945.57,162.36 945.30,162.50C945.03,162.63 944.48,162.41 944.21,161.95C943.93,161.49 943.75,160.13 943.66,159.76 M946.39,158.12L951.32,158.39L952.41,159.21L958.98,159.21 M947.76,158.94C947.85,159.12 948.31,159.49 948.31,160.04C948.31,160.58 947.31,161.58 947.76,162.22C948.22,162.86 949.81,163.50 951.04,163.86C952.27,164.23 953.96,164.46 955.15,164.41C956.33,164.37 957.33,163.91 958.16,163.59C958.98,163.27 959.75,162.68 960.07,162.50 M961.71,160.86C961.89,160.99 962.62,161.17 962.81,161.68C962.99,162.18 963.08,163.18 962.81,163.86C962.53,164.55 961.80,165.37 961.16,165.78C960.53,166.19 959.80,166.23 958.98,166.33C958.16,166.42 956.88,166.23 956.24,166.33C955.60,166.42 955.33,166.78 955.15,166.87 M947.49,166.05C948.13,166.19 950.04,166.74 951.32,166.87C952.59,167.01 954.51,166.87 955.15,166.87 M955.69,161.13L955.15,164.41 M958.98,159.21L959.25,162.22 M947.49,166.05L946.39,168.24L946.67,169.88L945.30,172.62L945.57,174.81L944.21,176.45L944.48,179.18L946.12,181.10L948.58,182.19 M955.15,166.87L954.60,170.43L953.51,172.62L954.05,175.35L952.68,177.54L952.41,180.28L950.77,181.37L948.58,182.19 M947.76,169.61C948.17,169.75 949.17,170.47 950.22,170.43C951.27,170.38 953.41,169.52 954.05,169.33 M946.39,173.16C946.85,173.35 947.94,174.30 949.13,174.26C950.31,174.21 952.78,173.12 953.51,172.89 M945.57,176.45C946.07,176.72 947.35,178.00 948.58,178.09C949.81,178.18 952.23,177.18 952.96,176.99 M945.03,179.46C945.53,179.64 946.85,180.50 948.04,180.55C949.22,180.59 951.45,179.87 952.14,179.73 M1097.66,466.12C1097.89,465.89 1098.34,465.07 1099.03,464.75C1099.71,464.43 1100.80,464.07 1101.76,464.21C1102.72,464.34 1103.27,464.75 1104.77,465.57C1106.27,466.39 1109.42,468.31 1110.79,469.13C1112.16,469.95 1112.61,470.27 1112.98,470.50 M1097.66,466.12C1097.57,466.53 1097.16,467.72 1097.11,468.58C1097.07,469.45 1096.38,470.31 1097.39,471.32C1098.39,472.32 1101.44,473.82 1103.13,474.60C1104.82,475.37 1106.50,475.42 1107.51,475.97C1108.51,476.51 1108.87,477.56 1109.15,477.88 M1099.85,464.75C1099.57,465.30 1098.48,466.90 1098.21,468.04C1097.93,469.17 1098.21,471.00 1098.21,471.59 M1107.51,467.76C1107.05,468.35 1105.32,470.09 1104.77,471.32C1104.22,472.55 1104.31,474.51 1104.22,475.15 M1110.79,469.40C1110.33,470.00 1108.60,471.86 1108.05,472.96C1107.51,474.05 1107.60,475.47 1107.51,475.97 M1113.52,470.77C1113.07,471.41 1111.38,473.51 1110.79,474.60C1110.20,475.69 1110.10,476.88 1109.97,477.33 M1114.62,469.68C1114.16,470.31 1112.70,472.23 1111.88,473.51C1111.06,474.78 1110.15,476.24 1109.69,477.33C1109.24,478.43 1109.19,478.88 1109.15,480.07C1109.10,481.26 1108.96,483.40 1109.42,484.45C1109.88,485.49 1111.11,486.13 1111.88,486.36C1112.66,486.59 1113.71,485.91 1114.07,485.81 M1114.62,469.68L1117.35,468.31L1121.73,468.31L1123.92,469.40L1126.65,473.51L1127.75,477.88L1123.92,484.45L1116.81,485.81L1114.07,483.90L1111.88,479.52L1115.71,471.86 M1115.71,471.86L1119.54,470.77L1122.82,471.59L1123.37,472.96L1120.63,474.60L1116.26,473.51L1115.71,471.86 M1119.54,474.60C1119.08,475.60 1117.31,478.79 1116.81,480.62C1116.30,482.44 1116.58,484.72 1116.53,485.54 M1112.70,479.52L1116.26,481.44 M1114.07,482.26L1115.71,484.99 M1123.92,469.40C1123.96,469.90 1123.73,471.73 1124.19,472.41C1124.65,473.10 1126.24,473.32 1126.65,473.51 M733.05,295.32L728.40,295.32L727.31,297.51L727.31,304.07L731.41,310.09L736.06,310.36L736.88,308.45L742.35,307.90L743.72,306.53L743.72,297.51 M737.98,293.13L741.81,296.41L744.81,297.51 M733.60,295.86C733.69,296.87 733.55,299.97 734.15,301.88C734.74,303.80 736.61,306.08 737.16,307.35C737.70,308.63 737.38,309.18 737.43,309.54 M737.16,299.15L737.16,308.45 M730.32,295.32L729.50,290.94L729.77,289.03L734.15,288.21L735.79,287.11L736.88,287.66L737.70,293.13 M731.41,294.77C731.41,293.95 731.05,290.71 731.41,289.85C731.78,288.98 732.96,289.12 733.60,289.57C734.24,290.03 734.92,291.62 735.24,292.58C735.56,293.54 735.47,294.86 735.51,295.32 M735.24,296.41C735.51,296.32 736.33,295.59 736.88,295.86C737.43,296.14 738.34,297.41 738.52,298.05C738.71,298.69 738.34,299.33 737.98,299.69C737.61,300.06 736.84,300.42 736.33,300.24C735.83,300.06 735.15,299.24 734.97,298.60C734.78,297.96 735.20,296.78 735.24,296.41 M739.07,299.15L742.90,298.05 M739.89,293.95L742.35,296.41 M722.11,305.44L727.31,304.07L732.51,302.32 M1012.88,64.38L1011.88,74.38 M1010.62,78.75L1009.38,88.75 M1008.50,93.12L1007.50,104.38L999.38,108.12 M995.00,110.62L987.50,115.00 M983.12,117.50L975.62,122.50 M971.25,125.00L963.75,129.75 M1081.25,385.00L1075.62,390.00 M1083.75,388.75L1082.50,390.00 M1077.25,367.75L1085.00,392.50L1092.50,418.75 M1089.00,365.00L1097.50,392.50L1105.62,418.12 M1092.50,418.75C1092.81,419.27 1093.33,421.15 1094.38,421.88C1095.42,422.60 1097.19,423.23 1098.75,423.12C1100.31,423.02 1102.60,422.08 1103.75,421.25C1104.90,420.42 1105.31,418.65 1105.62,418.12 M1091.88,376.25C1092.40,376.88 1094.06,378.54 1095.00,380.00C1095.94,381.46 1096.67,383.85 1097.50,385.00C1098.33,386.15 1099.33,385.62 1100.00,386.88C1100.67,388.12 1101.60,390.94 1101.50,392.50C1101.40,394.06 1099.46,394.58 1099.38,396.25C1099.29,397.92 1100.90,400.94 1101.00,402.50C1101.10,404.06 1100.58,406.04 1100.00,405.62C1099.42,405.21 1097.81,401.56 1097.50,400.00C1097.19,398.44 1098.54,397.92 1098.12,396.25C1097.71,394.58 1095.94,392.29 1095.00,390.00C1094.06,387.71 1093.02,384.79 1092.50,382.50C1091.98,380.21 1091.98,377.29 1091.88,376.25 M1100.62,389.62L1138.75,389.62 M200.00,361.90C200.42,362.58 201.77,364.65 202.50,366.00C203.23,367.35 204.08,369.33 204.40,370.00 M160.00,376.50C160.50,375.67 161.92,372.75 163.00,371.50C164.08,370.25 165.12,369.25 166.50,369.00C167.88,368.75 170.46,369.83 171.25,370.00 M325.00,370.00L330.00,369.40 M475.00,380.00L487.00,378.00L485.60,380.00 M963.75,130.00L960.00,131.88 M956.25,133.75L950.00,137.50 M946.25,139.38L936.88,144.38 M933.75,146.00L926.88,149.75L925.00,158.75 M924.38,162.50L923.12,172.50 M922.50,176.25L921.25,186.25 M920.62,190.00L920.00,195.00 M962.88,163.38L1000.62,163.38 M1041.25,52.50C1041.83,50.52 1044.33,43.33 1044.75,40.62C1045.17,37.92 1043.92,36.98 1043.75,36.25C1039.17,33.92 1021.46,24.54 1016.25,22.25C1011.04,19.96 1013.12,22.46 1012.50,22.50C1008.54,23.96 993.54,28.85 988.75,31.25C983.96,33.65 985.00,34.79 983.75,36.88C982.50,38.96 981.56,41.88 981.25,43.75C980.94,45.62 981.77,47.40 981.88,48.12C986.56,50.77 1004.79,61.29 1010.00,64.00C1015.21,66.71 1012.60,64.31 1013.12,64.38L1026.25,58.50 M1076.25,70.00C1068.75,66.15 1039.38,50.94 1031.25,46.88C1023.12,42.81 1028.75,45.62 1027.50,45.62C1026.25,45.62 1024.79,46.04 1023.75,46.88C1022.71,47.71 1021.56,49.38 1021.25,50.62C1020.94,51.88 1021.04,53.06 1021.88,54.38C1022.71,55.69 1025.52,57.81 1026.25,58.50C1033.12,62.08 1059.90,76.25 1067.50,80.00C1075.10,83.75 1070.31,81.21 1071.88,81.00C1073.44,80.79 1075.52,80.38 1076.88,78.75C1078.23,77.12 1079.06,73.33 1080.00,71.25C1080.94,69.17 1082.19,67.71 1082.50,66.25C1082.81,64.79 1082.71,63.65 1081.88,62.50C1081.04,61.35 1078.65,60.00 1077.50,59.38C1076.35,58.75 1077.40,58.69 1075.00,58.75C1072.60,58.81 1065.10,59.58 1063.12,59.75 M1044.75,41.25L1063.12,50.62L1063.50,53.12L1061.88,59.38L1056.25,60.00 M1041.25,52.50L1056.25,60.00 M1070.00,60.00C1070.52,60.83 1072.19,63.33 1073.12,65.00C1074.06,66.67 1075.21,69.17 1075.62,70.00 M1094.38,73.50L1090.62,67.25L1151.25,57.75 M1094.38,73.50L1155.00,63.50 M1151.25,57.75C1151.46,56.98 1151.25,54.42 1152.50,53.12C1153.75,51.83 1156.88,50.98 1158.75,50.00C1160.62,49.02 1162.08,47.56 1163.75,47.25C1165.42,46.94 1167.29,47.25 1168.75,48.12C1170.21,49.00 1171.71,50.73 1172.50,52.50C1173.29,54.27 1173.92,56.98 1173.50,58.75C1173.08,60.52 1171.62,61.88 1170.00,63.12C1168.38,64.38 1165.83,65.94 1163.75,66.25C1161.67,66.56 1158.96,65.46 1157.50,65.00C1156.04,64.54 1155.42,63.75 1155.00,63.50 M1151.25,57.75C1152.19,58.02 1156.21,58.42 1156.88,59.38C1157.54,60.33 1155.52,62.81 1155.25,63.50 M1081.88,61.88C1082.60,61.81 1084.90,60.77 1086.25,61.50C1087.60,62.23 1088.12,62.54 1090.00,66.25C1091.88,69.96 1094.48,77.08 1097.50,83.75C1100.52,90.42 1106.35,102.50 1108.12,106.25 M1080.62,72.50C1081.98,75.42 1085.94,83.75 1088.75,90.00C1091.56,96.25 1096.04,106.67 1097.50,110.00 M1081.88,80.00L1074.38,110.00 M1089.38,93.75L1084.38,110.00 M1060.00,49.38C1060.52,49.58 1062.60,49.69 1063.12,50.62C1063.65,51.56 1063.44,53.44 1063.12,55.00C1062.81,56.56 1061.56,59.17 1061.25,60.00 M1076.88,100.00C1076.46,101.67 1075.21,107.29 1074.38,110.00C1073.54,112.71 1072.81,114.38 1071.88,116.25C1070.94,118.12 1069.27,120.42 1068.75,121.25 M1088.12,100.00C1087.40,102.29 1085.10,109.79 1083.75,113.75C1082.40,117.71 1081.04,121.15 1080.00,123.75C1078.96,126.35 1077.92,128.44 1077.50,129.38 M1050.62,137.50L1050.00,135.62L1058.12,123.75L1061.88,123.75L1082.50,140.00L1081.88,141.88L1073.75,152.50L1070.00,153.12L1050.62,137.50 M1058.12,123.75C1058.75,123.44 1060.62,122.46 1061.88,121.88C1063.12,121.29 1064.48,120.15 1065.62,120.25C1066.77,120.35 1068.54,121.50 1068.75,122.50C1068.96,123.50 1067.19,125.62 1066.88,126.25 M1077.50,129.38C1078.33,130.00 1081.98,131.77 1082.50,133.12C1083.02,134.48 1080.94,136.77 1080.62,137.50 M1093.12,100.00C1095.10,103.75 1101.35,115.00 1105.00,122.50C1108.65,130.00 1112.50,139.38 1115.00,145.00C1117.50,150.62 1118.75,152.92 1120.00,156.25C1121.25,159.58 1121.92,161.04 1122.50,165.00C1123.08,168.96 1123.33,177.50 1123.50,180.00 M1104.38,100.00C1105.94,103.12 1111.15,113.54 1113.75,118.75C1116.35,123.96 1117.71,126.46 1120.00,131.25C1122.29,136.04 1125.73,143.33 1127.50,147.50C1129.27,151.67 1129.58,152.92 1130.62,156.25C1131.67,159.58 1133.06,163.54 1133.75,167.50C1134.44,171.46 1134.58,177.92 1134.75,180.00 M1132.50,137.50C1132.81,137.19 1132.71,136.29 1134.38,135.62C1136.04,134.96 1139.48,133.92 1142.50,133.50C1145.52,133.08 1150.62,132.88 1152.50,133.12C1154.38,133.38 1153.12,133.23 1153.75,135.00C1154.38,136.77 1158.54,141.15 1156.25,143.75C1153.96,146.35 1143.23,149.69 1140.00,150.62C1136.77,151.56 1138.02,150.94 1136.88,149.38C1135.73,147.81 1133.85,143.23 1133.12,141.25C1132.40,139.27 1132.60,138.12 1132.50,137.50 M1153.12,135.00C1154.06,135.31 1157.29,135.83 1158.75,136.88C1160.21,137.92 1161.25,139.27 1161.88,141.25C1162.50,143.23 1162.81,146.46 1162.50,148.75C1162.19,151.04 1162.50,149.79 1160.00,155.00C1157.50,160.21 1149.58,175.83 1147.50,180.00 M1156.25,143.75C1156.35,144.48 1159.58,142.08 1156.88,148.12C1154.17,154.17 1142.81,174.69 1140.00,180.00 M1111.88,140.00C1113.12,142.71 1117.60,151.88 1119.38,156.25C1121.15,160.62 1121.67,161.88 1122.50,166.25C1123.33,170.62 1123.85,178.12 1124.38,182.50C1124.90,186.88 1125.42,190.83 1125.62,192.50 M1124.38,140.00C1125.31,142.08 1128.44,148.12 1130.00,152.50C1131.56,156.88 1132.92,162.08 1133.75,166.25C1134.58,170.42 1134.69,174.38 1135.00,177.50C1135.31,180.62 1135.31,182.92 1135.62,185.00C1135.94,187.08 1136.67,189.17 1136.88,190.00 M1123.52,183.21L1119.15,183.48L1116.41,184.85L1115.32,186.49L1112.31,189.50L1111.21,191.96L1112.31,194.15L1115.32,196.33L1117.51,196.06L1117.78,194.42L1118.87,197.16L1121.06,195.51L1121.88,194.42L1122.70,197.43L1124.34,196.88L1125.16,194.69 M1116.41,185.67C1116.87,185.76 1118.46,185.90 1119.15,186.21C1119.83,186.53 1120.29,187.35 1120.51,187.58 M1124.38,191.88C1125.31,191.88 1128.12,192.19 1130.00,191.88C1131.88,191.56 1134.38,190.52 1135.62,190.00C1136.88,189.48 1137.19,188.96 1137.50,188.75 M1125.00,195.00C1126.04,195.00 1129.38,195.31 1131.25,195.00C1133.12,194.69 1135.10,194.06 1136.25,193.12C1137.40,192.19 1138.02,190.73 1138.12,189.38C1138.23,188.02 1137.08,185.73 1136.88,185.00 M1139.38,195.62C1144.48,196.15 1163.75,198.27 1170.00,198.75C1176.25,199.23 1175.73,198.54 1176.88,198.50 M1125.62,196.25C1126.15,197.29 1127.19,200.83 1128.75,202.50C1130.31,204.17 1130.83,205.25 1135.00,206.25C1139.17,207.25 1147.50,207.88 1153.75,208.50C1160.00,209.12 1168.12,209.75 1172.50,210.00C1176.88,210.25 1178.75,210.00 1180.00,210.00 M1140.00,180.00L1137.50,185.62 M1147.50,180.00L1139.38,195.62 M1176.88,198.50C1177.29,198.08 1178.33,196.48 1179.38,196.00C1180.42,195.52 1181.98,194.96 1183.12,195.62C1184.27,196.29 1185.52,198.44 1186.25,200.00C1186.98,201.56 1187.50,203.65 1187.50,205.00C1187.50,206.35 1187.29,207.19 1186.25,208.12C1185.21,209.06 1182.29,210.31 1181.25,210.62C1180.21,210.94 1180.21,210.10 1180.00,210.00 M1180.00,197.50C1180.42,198.12 1181.98,199.79 1182.50,201.25C1183.02,202.71 1183.23,204.90 1183.12,206.25C1183.02,207.60 1182.08,208.85 1181.88,209.38 M1183.75,195.00C1186.46,191.67 1195.62,180.62 1200.00,175.00C1204.38,169.38 1207.71,164.06 1210.00,161.25C1212.29,158.44 1212.29,158.75 1213.75,158.12C1215.21,157.50 1217.19,157.08 1218.75,157.50C1220.31,157.92 1222.29,159.17 1223.12,160.62C1223.96,162.08 1223.75,164.58 1223.75,166.25C1223.75,167.92 1223.23,169.90 1223.12,170.62 M1187.50,206.25C1189.58,204.06 1195.42,198.54 1200.00,193.12C1204.58,187.71 1211.67,178.12 1215.00,173.75C1218.33,169.38 1219.17,168.02 1220.00,166.88 M1215.00,174.38C1216.35,173.96 1220.21,172.71 1223.12,171.88C1226.04,171.04 1229.90,169.48 1232.50,169.38C1235.10,169.27 1237.08,170.10 1238.75,171.25C1240.42,172.40 1242.08,174.38 1242.50,176.25C1242.92,178.12 1241.98,180.62 1241.25,182.50C1240.52,184.38 1239.58,186.46 1238.12,187.50C1236.67,188.54 1233.65,188.96 1232.50,188.75C1231.35,188.54 1231.46,186.67 1231.25,186.25 M1202.50,191.25C1203.12,191.77 1204.58,193.54 1206.25,194.38C1207.92,195.21 1210.00,196.15 1212.50,196.25C1215.00,196.35 1218.75,195.62 1221.25,195.00C1223.75,194.38 1226.04,193.54 1227.50,192.50C1228.96,191.46 1229.27,190.83 1230.00,188.75C1230.73,186.67 1230.62,181.88 1231.88,180.00C1233.12,178.12 1236.35,177.50 1237.50,177.50C1238.65,177.50 1238.54,179.58 1238.75,180.00 M1217.50,191.25C1217.92,190.21 1218.75,186.77 1220.00,185.00C1221.25,183.23 1223.12,181.67 1225.00,180.62C1226.88,179.58 1230.21,179.06 1231.25,178.75 M1154.38,208.50L1154.38,245.25 M664.38,213.12L664.38,252.25 M688.75,264.38L688.75,251.50C686.67,251.50 680.42,251.33 676.25,251.50C672.08,251.67 667.29,251.96 663.75,252.50C660.21,253.04 658.02,253.29 655.00,254.75C651.98,256.21 647.50,259.23 645.62,261.25C643.75,263.27 644.69,264.79 643.75,266.88C642.81,268.96 640.88,272.19 640.00,273.75C639.12,275.31 638.50,274.90 638.50,276.25C638.50,277.60 639.44,279.79 640.00,281.88C640.56,283.96 640.62,285.73 641.88,288.75C643.12,291.77 645.52,296.15 647.50,300.00C649.48,303.85 651.67,308.54 653.75,311.88C655.83,315.21 658.96,318.65 660.00,320.00 M688.75,264.38C686.46,264.48 679.48,264.73 675.00,265.00C670.52,265.27 664.58,265.58 661.88,266.00C659.17,266.42 660.00,266.31 658.75,267.50C657.50,268.69 655.42,271.25 654.38,273.12C653.33,275.00 652.29,276.56 652.50,278.75C652.71,280.94 654.17,283.12 655.62,286.25C657.08,289.38 659.27,293.75 661.25,297.50C663.23,301.25 665.31,306.29 667.50,308.75C669.69,311.21 673.23,311.67 674.38,312.25C676.56,311.56 683.44,309.33 687.50,308.12C691.56,306.92 696.25,305.62 698.75,305.00C701.25,304.38 701.15,303.79 702.50,304.38C703.85,304.96 706.15,307.81 706.88,308.50 M689.38,258.50L693.12,258.50 M697.50,258.50L707.50,258.50 M712.50,258.50L721.88,258.50 M726.88,258.50L736.88,258.50 M741.25,258.50L746.25,258.12L751.25,257.50 M755.00,257.50L765.00,257.50 M769.38,257.50L780.00,257.50 M706.88,308.50L716.88,305.62 M647.50,300.00C648.33,301.67 650.42,306.67 652.50,310.00C654.58,313.33 657.19,317.50 660.00,320.00C662.81,322.50 667.81,324.17 669.38,325.00C670.94,324.79 673.23,325.00 678.75,323.75C684.27,322.50 698.02,319.06 702.50,317.50C706.98,315.94 704.90,315.83 705.62,314.38C706.35,312.92 706.67,309.69 706.88,308.75 M661.25,300.00C662.29,301.46 665.31,306.71 667.50,308.75C669.69,310.79 673.23,311.67 674.38,312.25 M737.50,310.00L737.50,345.00 M790.38,176.25L790.38,213.50 M812.50,233.75L817.50,236.88 M821.25,239.38L829.38,244.38 M834.38,246.88L843.12,251.50 M789.00,249.38L802.50,249.38L802.50,265.62L789.38,265.62L789.00,249.38 M793.12,249.38L793.50,247.50L797.50,247.50L797.75,249.38 M795.62,265.62L795.62,302.50 M760.00,257.50L765.62,257.50 M770.62,257.50L781.88,257.50 M802.50,257.50L815.00,257.50 M818.75,257.50L829.38,257.50 M833.75,257.50L844.38,257.50 M823.12,257.50L823.12,268.50L830.00,268.50 M833.75,268.50L844.38,268.50 M845.00,261.25L845.00,253.50C848.54,253.50 861.15,253.56 866.25,253.50C871.35,253.44 870.42,253.19 875.62,253.12C880.83,253.06 892.19,253.12 897.50,253.12C902.81,253.12 904.90,253.44 907.50,253.12C910.10,252.81 911.67,252.19 913.12,251.25C914.58,250.31 915.10,249.38 916.25,247.50C917.40,245.62 919.38,241.25 920.00,240.00 M845.00,261.25C851.67,261.25 875.21,261.35 885.00,261.25C894.79,261.15 899.58,261.04 903.75,260.62C907.92,260.21 907.92,259.58 910.00,258.75C912.08,257.92 914.58,256.56 916.25,255.62C917.92,254.69 919.38,253.54 920.00,253.12 M847.50,262.25L885.00,262.25 M844.38,271.88L844.38,263.75C844.90,263.79 840.10,263.90 847.50,264.00C854.90,264.10 878.33,264.62 888.75,264.38C899.17,264.12 904.79,263.44 910.00,262.50C915.21,261.56 918.33,259.38 920.00,258.75 M844.38,271.88C844.90,271.94 840.73,272.25 847.50,272.25C854.27,272.25 875.62,272.00 885.00,271.88C894.38,271.75 897.92,272.02 903.75,271.50C909.58,270.98 917.29,269.21 920.00,268.75 M874.38,253.12L876.25,251.25L895.00,251.25L896.88,253.12 M866.25,263.75L868.75,261.88 M870.00,263.75L872.50,261.88 M905.00,212.25L920.00,206.88 M905.00,212.25L920.00,220.00 M923.12,180.00L921.25,187.50 M920.62,191.25L919.38,201.25 M918.12,205.00L917.25,212.75 M948.50,182.50L946.88,188.75 M946.00,192.50L943.75,202.50 M943.12,205.62L942.25,213.12 M926.88,224.38L905.62,212.50L917.50,207.25L931.25,215.00 M931.25,215.00C931.46,214.27 931.35,211.46 932.50,210.62C933.65,209.79 936.98,209.48 938.12,210.00C939.27,210.52 939.17,213.12 939.38,213.75 M941.25,213.75C941.46,213.23 941.46,211.25 942.50,210.62C943.54,210.00 946.35,209.27 947.50,210.00C948.65,210.73 949.06,214.17 949.38,215.00 M949.38,215.62L963.12,220.62L967.50,226.25L967.50,228.75L982.50,237.50L982.50,238.50L960.00,238.50 M926.88,224.38L929.38,229.38L943.75,224.38 M926.88,224.38L925.00,228.75L925.62,231.25L943.75,240.62 M943.75,224.38L944.38,245.00L946.25,247.50L960.00,243.75 M946.25,217.50L946.88,240.00L948.75,240.62L960.00,237.50 M946.88,222.50L955.00,226.88L953.75,230.62L947.50,233.75 M967.50,228.75L962.50,231.25L959.38,238.75L960.00,243.75 M931.88,215.00L949.38,215.62 M925.00,228.75C924.17,230.62 921.56,236.56 920.00,240.00C918.44,243.44 916.88,247.33 915.62,249.38C914.38,251.42 913.96,251.62 912.50,252.25C911.04,252.88 909.58,253.08 906.88,253.12C904.17,253.17 900.73,252.71 896.25,252.50C891.77,252.29 882.71,251.98 880.00,251.88 M931.88,235.00C930.94,237.08 928.23,243.33 926.25,247.50C924.27,251.67 921.04,257.92 920.00,260.00 M921.88,252.25C920.73,252.92 917.50,255.06 915.00,256.25C912.50,257.44 908.23,258.85 906.88,259.38 M938.75,240.00C937.71,242.08 934.27,249.17 932.50,252.50C930.73,255.83 928.85,258.75 928.12,260.00 M960.00,243.75C961.25,244.38 965.42,246.04 967.50,247.50C969.58,248.96 971.04,250.42 972.50,252.50C973.96,254.58 975.62,258.75 976.25,260.00 M971.25,240.62C972.29,241.77 975.62,245.10 977.50,247.50C979.38,249.90 981.35,252.92 982.50,255.00C983.65,257.08 984.06,259.17 984.38,260.00 M975.62,240.00C976.98,241.25 981.56,245.00 983.75,247.50C985.94,250.00 987.50,252.92 988.75,255.00C990.00,257.08 990.83,259.17 991.25,260.00 M917.50,270.00C918.54,269.48 921.98,268.54 923.75,266.88C925.52,265.21 927.40,261.15 928.12,260.00 M920.00,258.75L920.00,260.00 M880.00,271.88C881.04,272.81 884.38,275.73 886.25,277.50C888.12,279.27 890.21,280.73 891.25,282.50C892.29,284.27 891.77,286.67 892.50,288.12C893.23,289.58 894.17,291.15 895.62,291.25C897.08,291.35 899.79,290.00 901.25,288.75C902.71,287.50 903.96,285.62 904.38,283.75C904.79,281.88 904.10,279.48 903.75,277.50C903.40,275.52 902.50,272.81 902.25,271.88 M896.88,287.50C896.81,286.98 896.29,285.42 896.50,284.38C896.71,283.33 897.44,281.94 898.12,281.25C898.81,280.56 900.00,280.04 900.62,280.25C901.25,280.46 901.77,281.60 901.88,282.50C901.98,283.40 901.73,284.69 901.25,285.62C900.77,286.56 899.67,287.71 899.00,288.12C898.33,288.54 897.60,288.23 897.25,288.12C896.90,288.02 896.94,287.60 896.88,287.50 M898.12,286.50L900.00,281.88 M943.12,240.00C943.33,240.83 943.65,243.79 944.38,245.00C945.10,246.21 945.10,247.46 947.50,247.25C949.90,247.04 956.88,244.33 958.75,243.75 M958.75,243.75C960.21,244.38 965.00,245.83 967.50,247.50C970.00,249.17 972.29,251.67 973.75,253.75C975.21,255.83 974.79,253.96 976.25,260.00C977.71,266.04 980.21,280.00 982.50,290.00C984.79,300.00 988.75,315.00 990.00,320.00 M971.25,241.25C972.50,242.50 976.77,246.15 978.75,248.75C980.73,251.35 981.98,253.54 983.12,256.88C984.27,260.21 984.58,264.90 985.62,268.75C986.67,272.60 988.02,274.79 989.38,280.00C990.73,285.21 992.19,293.33 993.75,300.00C995.31,306.67 997.92,316.67 998.75,320.00 M986.25,270.62C987.08,272.60 989.38,278.02 991.25,282.50C993.12,286.98 995.21,291.46 997.50,297.50C999.79,303.54 1003.75,315.21 1005.00,318.75 M976.25,240.00C977.81,241.35 982.92,243.96 985.62,248.12C988.33,252.29 989.48,257.50 992.50,265.00C995.52,272.50 1000.21,283.96 1003.75,293.12C1007.29,302.29 1012.08,315.52 1013.75,320.00 M1003.75,293.38L1042.50,293.38 M990.62,320.00C991.35,322.71 993.75,330.83 995.00,336.25C996.25,341.67 997.29,347.60 998.12,352.50C998.96,357.40 999.69,363.44 1000.00,365.62 M998.75,320.00C999.38,322.08 1001.46,328.33 1002.50,332.50C1003.54,336.67 1004.27,340.83 1005.00,345.00C1005.73,349.17 1006.56,355.42 1006.88,357.50 M1005.62,320.00C1006.46,322.08 1009.38,328.33 1010.62,332.50C1011.88,336.67 1012.40,341.46 1013.12,345.00C1013.85,348.54 1014.69,352.29 1015.00,353.75 M1013.75,320.00C1014.58,322.08 1017.40,328.12 1018.75,332.50C1020.10,336.88 1021.04,343.33 1021.88,346.25C1022.71,349.17 1023.44,349.38 1023.75,350.00 M1023.75,349.38C1019.79,351.88 1003.75,361.15 1000.00,364.38C996.25,367.60 1002.92,367.08 1001.25,368.75C999.58,370.42 992.60,372.50 990.00,374.38C987.40,376.25 986.77,377.40 985.62,380.00C984.48,382.60 983.90,386.67 983.12,390.00C982.35,393.33 981.35,398.33 981.00,400.00 M1023.75,349.38C1024.12,350.94 1025.69,356.46 1026.00,358.75C1026.31,361.04 1029.12,360.31 1025.62,363.12C1022.12,365.94 1008.85,372.60 1005.00,375.62C1001.15,378.65 1004.17,379.79 1002.50,381.25C1000.83,382.71 996.67,382.60 995.00,384.38C993.33,386.15 993.12,389.27 992.50,391.88C991.88,394.48 991.46,398.65 991.25,400.00 M988.12,382.50L990.62,378.75L993.12,379.38L993.12,381.88L990.00,385.62L988.12,385.00L988.12,382.50 M1016.88,370.00C1017.08,373.02 1017.40,384.90 1018.12,388.12C1018.85,391.35 1020.10,389.48 1021.25,389.38C1022.40,389.27 1024.27,389.06 1025.00,387.50C1025.73,385.94 1025.83,383.65 1025.62,380.00C1025.42,376.35 1024.06,368.02 1023.75,365.62 M1021.88,390.00L1022.50,395.62 M1001.25,381.88C1001.46,384.06 1001.88,392.29 1002.50,395.00C1003.12,397.71 1003.85,397.92 1005.00,398.12C1006.15,398.33 1008.44,396.98 1009.38,396.25C1010.31,395.52 1010.83,397.29 1010.62,393.75C1010.42,390.21 1008.54,378.12 1008.12,375.00 M934.25,370.50L955.50,370.50L955.50,392.50L934.25,392.50L934.25,370.50 M939.25,387.50L945.00,376.25L951.25,387.50 M940.80,384.00L949.50,384.00 M956.25,386.25L966.88,391.88 M970.00,393.75L980.62,399.38 M1077.50,347.50L1081.88,361.88 M1076.25,366.88C1076.56,366.25 1076.88,364.06 1078.12,363.12C1079.38,362.19 1081.98,361.25 1083.75,361.25C1085.52,361.25 1088.02,362.19 1088.75,363.12C1089.48,364.06 1088.96,365.83 1088.12,366.88C1087.29,367.92 1085.42,369.02 1083.75,369.38C1082.08,369.73 1079.38,369.42 1078.12,369.00C1076.88,368.58 1076.56,367.23 1076.25,366.88 M1070.00,400.00C1070.83,398.54 1072.92,393.75 1075.00,391.25C1077.08,388.75 1081.25,386.04 1082.50,385.00 M1075.00,400.00C1075.62,398.96 1077.29,395.73 1078.75,393.75C1080.21,391.77 1082.92,389.06 1083.75,388.12 M983.12,390.00C982.71,391.67 981.04,397.40 980.62,400.00C980.21,402.60 980.21,404.06 980.62,405.62C981.04,407.19 981.98,408.85 983.12,409.38C984.27,409.90 986.25,409.69 987.50,408.75C988.75,407.81 989.69,406.25 990.62,403.75C991.56,401.25 992.56,396.04 993.12,393.75C993.69,391.46 993.85,390.62 994.00,390.00 M983.75,405.62C983.79,405.00 983.48,402.98 984.00,401.88C984.52,400.77 986.04,399.21 986.88,399.00C987.71,398.79 988.69,399.83 989.00,400.62C989.31,401.42 989.21,402.71 988.75,403.75C988.29,404.79 987.08,406.56 986.25,406.88C985.42,407.19 984.17,405.83 983.75,405.62 M1002.50,390.00C1002.60,391.15 1002.60,395.38 1003.12,396.88C1003.65,398.38 1004.58,398.90 1005.62,399.00C1006.67,399.10 1008.54,399.00 1009.38,397.50C1010.21,396.00 1010.42,391.25 1010.62,390.00 M963.75,390.00L968.75,393.12 M971.88,395.00L980.62,399.75 M990.62,404.75L996.88,408.50 M1000.00,410.25L1008.75,415.00 M1012.25,418.12L1021.25,422.75 M1024.38,425.00L1033.12,429.75 M1036.25,432.50L1047.50,437.50 M1006.25,399.38L1007.75,409.38 M1008.50,420.00L1010.00,431.25 M1010.62,435.00L1012.25,445.62 M1012.50,450.00L1013.12,459.38 M1013.50,463.75L1013.75,471.25 M1021.88,390.00L1023.12,397.50 M1023.75,401.25L1025.25,410.62 M1025.62,414.38L1026.25,421.25 M1026.50,430.00L1027.25,440.00 M1027.50,443.12L1027.50,446.88L1022.50,449.38 M1020.00,450.88L1013.12,454.38 M1013.12,451.25L1013.12,455.00 M1061.88,423.12L1069.38,426.88 M1072.50,428.75L1082.50,433.75L1082.50,443.75 M1082.50,447.50L1082.50,457.50 M1051.88,416.88C1051.35,419.27 1049.58,426.98 1048.75,431.25C1047.92,435.52 1046.88,439.90 1046.88,442.50C1046.88,445.10 1047.81,445.88 1048.75,446.88C1049.69,447.88 1051.35,448.50 1052.50,448.50C1053.65,448.50 1054.90,447.88 1055.62,446.88C1056.35,445.88 1056.67,443.23 1056.88,442.50 M1054.38,418.12C1053.85,420.31 1051.98,427.40 1051.25,431.25C1050.52,435.10 1050.00,438.96 1050.00,441.25C1050.00,443.54 1051.04,444.38 1051.25,445.00 M1051.88,416.88C1052.40,416.56 1053.65,414.79 1055.00,415.00C1056.35,415.21 1059.06,416.77 1060.00,418.12C1060.94,419.48 1061.04,422.19 1060.62,423.12C1060.21,424.06 1058.12,424.38 1057.50,423.75C1056.88,423.12 1056.98,420.10 1056.88,419.38 M1072.50,413.75C1072.08,416.04 1070.83,423.12 1070.00,427.50C1069.17,431.88 1068.33,437.71 1067.50,440.00C1066.67,442.29 1066.25,440.94 1065.00,441.25C1063.75,441.56 1061.35,441.35 1060.00,441.88C1058.65,442.40 1057.40,443.96 1056.88,444.38 M1054.38,411.88C1056.67,411.25 1065.10,408.02 1068.12,408.12C1071.15,408.23 1073.02,410.94 1072.50,412.50C1071.98,414.06 1067.71,416.88 1065.00,417.50C1062.29,418.12 1058.02,417.19 1056.25,416.25C1054.48,415.31 1054.69,412.60 1054.38,411.88 M1053.12,441.25C1053.44,440.94 1054.27,439.58 1055.00,439.38C1055.73,439.17 1057.19,439.38 1057.50,440.00C1057.81,440.62 1057.40,442.40 1056.88,443.12C1056.35,443.85 1055.00,444.69 1054.38,444.38C1053.75,444.06 1053.33,441.77 1053.12,441.25 M1075.62,390.00C1074.90,391.25 1072.40,394.79 1071.25,397.50C1070.10,400.21 1068.96,404.06 1068.75,406.25C1068.54,408.44 1069.79,409.90 1070.00,410.62 M1082.50,390.00C1081.46,391.46 1077.92,395.62 1076.25,398.75C1074.58,401.88 1073.02,406.35 1072.50,408.75C1071.98,411.15 1073.02,412.40 1073.12,413.12 M1073.12,413.12C1073.85,413.33 1075.94,414.69 1077.50,414.38C1079.06,414.06 1081.15,412.71 1082.50,411.25C1083.85,409.79 1085.00,407.08 1085.62,405.62C1086.25,404.17 1086.15,403.02 1086.25,402.50 M1012.75,452.50L1013.12,462.50 M1013.50,465.62L1014.38,476.25 M1014.75,478.75L1016.00,487.50 M1027.50,437.50L1027.50,446.88L1022.50,449.38 M1020.00,450.62L1013.12,454.00 M1011.25,440.00L1011.88,446.25 M1060.00,445.00L1067.50,449.38 M1077.50,455.00L1087.50,460.00 M1090.00,461.88L1098.12,465.62 M1082.75,440.00L1082.75,447.50 M1082.75,450.62L1082.75,457.50 M1117.88,485.62L1117.88,526.25 M173.27,234.21C172.26,233.59 168.90,231.32 167.18,230.46C165.46,229.60 164.45,229.14 162.96,229.06C161.48,228.98 159.53,229.29 158.28,230.00C157.03,230.70 156.09,231.95 155.46,233.28C154.84,234.60 154.37,236.56 154.53,237.96C154.68,239.37 154.84,240.46 156.40,241.71C157.96,242.96 162.26,244.68 163.90,245.46C165.54,246.24 165.85,246.24 166.24,246.40 M173.27,234.21C173.35,234.92 173.90,237.02 173.74,238.43C173.58,239.84 173.11,241.48 172.33,242.65C171.55,243.82 170.07,244.79 169.05,245.46C168.04,246.13 167.02,246.76 166.24,246.68C165.46,246.60 164.71,245.90 164.37,244.99C164.02,244.08 163.95,242.65 164.18,241.24C164.41,239.84 164.96,237.81 165.77,236.56C166.59,235.31 167.80,234.13 169.05,233.74C170.30,233.35 172.57,234.13 173.27,234.21 M167.37,193.26L167.37,230.46 M190.14,251.74C190.61,251.08 191.86,248.85 192.95,247.80C194.05,246.76 195.37,245.93 196.70,245.46C198.03,244.99 199.36,244.68 200.92,244.99C202.48,245.30 204.20,246.32 206.07,247.33C207.95,248.35 210.92,249.75 212.16,251.08C213.41,252.41 213.41,253.82 213.57,255.30C213.73,256.78 213.73,257.96 213.10,259.99C212.48,262.02 211.31,265.61 209.82,267.48C208.34,269.36 206.00,270.61 204.20,271.23C202.40,271.86 200.68,271.54 199.04,271.23C197.40,270.92 196.15,270.53 194.36,269.36C192.56,268.19 189.28,266.23 188.27,264.20C187.25,262.17 187.95,259.25 188.27,257.17C188.58,255.10 189.83,252.64 190.14,251.74 M206.07,247.33C205.06,247.96 201.78,249.44 199.98,251.08C198.18,252.72 196.26,255.07 195.30,257.17C194.33,259.28 194.25,261.86 194.17,263.73C194.09,265.61 194.09,267.17 194.83,268.42C195.56,269.67 197.95,270.76 198.58,271.23 M200.92,261.86C201.07,261.24 201.07,259.24 201.86,258.11C202.64,256.99 204.51,255.42 205.60,255.11C206.70,254.80 207.87,255.42 208.42,256.24C208.96,257.05 209.12,258.74 208.88,259.99C208.65,261.24 207.87,262.80 207.01,263.73C206.15,264.67 204.67,265.45 203.73,265.61C202.79,265.77 201.86,265.30 201.39,264.67C200.92,264.05 201.00,262.33 200.92,261.86 M204.20,259.99L207.48,261.86 M213.50,258.40L251.90,258.40 M169.05,240.12L177.96,245.46 M180.77,247.33L190.14,251.74 M209.35,262.80L214.51,266.08 M218.12,268.12L229.62,273.75L229.62,285.62 M229.62,290.00L229.62,299.38 M229.50,287.50L229.50,299.38 M229.50,303.75L229.50,313.75 M229.50,318.12L229.50,329.75L240.00,335.62 M243.12,337.25L251.25,341.88 M315.00,488.12L326.00,493.50 M330.00,495.62L337.50,500.00 M341.25,502.50L350.00,507.50 M353.12,509.38L361.88,514.38 M365.00,516.25L373.75,521.50 M376.88,523.12L386.88,528.50 M296.00,476.88L311.88,486.50 M335.60,521.00C335.62,522.50 336.47,527.67 335.70,530.00C334.93,532.33 332.62,533.17 331.00,535.00C329.38,536.83 326.83,540.00 326.00,541.00 M428.00,529.40L461.00,519.50 M389.69,530.24L399.54,535.71 M403.92,537.90L412.12,542.60 M414.86,544.46L424.16,549.93 M426.89,551.36L436.96,556.83 M437.29,551.36L458.84,551.36L458.84,573.46L437.29,573.46L437.29,551.36 M441.66,568.53L447.46,555.40L453.70,568.53 M443.09,565.25L452.06,565.25 M200.00,332.50C201.67,333.44 205.83,336.04 210.00,338.12C214.17,340.21 222.50,343.85 225.00,345.00 M225.00,344.75C228.12,344.54 237.50,344.04 243.75,343.50C250.00,342.96 256.88,341.71 262.50,341.50C268.12,341.29 271.15,342.12 277.50,342.25C283.85,342.38 296.77,342.25 300.62,342.25 M304.38,337.25C304.94,337.40 307.02,337.56 307.75,338.12C308.48,338.69 308.79,339.69 308.75,340.62C308.71,341.56 308.23,342.92 307.50,343.75C306.77,344.58 305.38,345.46 304.38,345.62C303.38,345.79 302.17,345.44 301.50,344.75C300.83,344.06 300.38,342.54 300.38,341.50C300.38,340.46 300.83,339.21 301.50,338.50C302.17,337.79 303.90,337.46 304.38,337.25 M309.38,341.25C313.23,340.94 325.73,339.58 332.50,339.38C339.27,339.17 345.42,339.94 350.00,340.00C354.58,340.06 358.33,339.79 360.00,339.75 M200.00,346.25C202.08,347.29 206.25,349.17 212.50,352.50C218.75,355.83 232.71,363.33 237.50,366.25C242.29,369.17 240.62,369.38 241.25,370.00 M210.00,338.12C212.50,339.38 219.38,343.44 225.00,345.62C230.62,347.81 237.50,348.75 243.75,351.25C250.00,353.75 259.38,359.06 262.50,360.62 M225.00,345.00C227.08,346.25 232.92,349.58 237.50,352.50C242.08,355.42 248.75,359.58 252.50,362.50C256.25,365.42 258.75,368.75 260.00,370.00 M242.50,345.00C243.54,345.52 246.67,347.75 248.75,348.12C250.83,348.50 252.71,346.94 255.00,347.25C257.29,347.56 260.62,348.71 262.50,350.00C264.38,351.29 265.31,353.33 266.25,355.00C267.19,356.67 266.67,358.79 268.12,360.00C269.58,361.21 272.19,361.42 275.00,362.25C277.81,363.08 282.50,363.71 285.00,365.00C287.50,366.29 289.17,369.17 290.00,370.00 M302.50,346.25C304.17,347.92 308.75,352.29 312.50,356.25C316.25,360.21 322.92,367.71 325.00,370.00 M310.00,342.50C311.25,344.17 314.58,349.17 317.50,352.50C320.42,355.83 325.83,360.83 327.50,362.50 M327.50,363.12C331.25,361.77 344.58,356.46 350.00,355.00C355.42,353.54 358.33,354.48 360.00,354.38 M330.00,369.38C333.75,368.06 347.50,362.85 352.50,361.50C357.50,360.15 358.75,361.29 360.00,361.25 M350.00,340.00C351.04,340.62 354.58,342.60 356.25,343.75C357.92,344.90 359.38,346.35 360.00,346.88 M200.00,363.75L203.75,370.00 M350.00,340.00C352.92,339.75 362.81,338.60 367.50,338.50C372.19,338.40 375.21,339.44 378.12,339.38C381.04,339.31 381.35,338.48 385.00,338.12C388.65,337.77 395.42,337.46 400.00,337.25C404.58,337.04 409.27,336.58 412.50,336.88C415.73,337.17 418.23,338.65 419.38,339.00 M412.50,336.88C413.12,336.46 414.58,334.79 416.25,334.38C417.92,333.96 420.83,334.17 422.50,334.38C424.17,334.58 425.62,335.42 426.25,335.62 M350.00,340.00C351.25,340.73 354.38,341.88 357.50,344.38C360.62,346.88 366.88,353.23 368.75,355.00 M350.00,355.00C352.08,354.90 358.02,354.17 362.50,354.38C366.98,354.58 373.75,356.19 376.88,356.25C380.00,356.31 377.40,356.21 381.25,354.75C385.10,353.29 393.96,349.96 400.00,347.50C406.04,345.04 413.75,341.67 417.50,340.00C421.25,338.33 421.67,337.92 422.50,337.50 M350.00,362.25C352.08,362.12 358.02,361.29 362.50,361.50C366.98,361.71 373.54,363.38 376.88,363.50C380.21,363.62 380.73,362.94 382.50,362.25C384.27,361.56 383.96,360.79 387.50,359.38C391.04,357.96 398.54,355.52 403.75,353.75C408.96,351.98 415.21,350.21 418.75,348.75C422.29,347.29 422.71,345.94 425.00,345.00C427.29,344.06 431.25,343.44 432.50,343.12 M426.25,335.00C427.40,334.38 430.31,331.88 433.12,331.25C435.94,330.62 441.04,330.88 443.12,331.25C445.21,331.62 445.21,333.12 445.62,333.50L445.62,346.25C444.90,346.46 442.50,347.75 441.25,347.50C440.00,347.25 439.58,345.48 438.12,344.75C436.67,344.02 433.44,343.40 432.50,343.12L432.50,337.50L426.25,336.25 M445.62,335.62C446.77,335.56 450.31,335.35 452.50,335.25C454.69,335.15 455.21,335.25 458.75,335.00C462.29,334.75 470.62,334.06 473.75,333.75C476.88,333.44 476.88,333.23 477.50,333.12 M452.50,335.25C453.02,334.58 453.75,331.92 455.62,331.25C457.50,330.58 461.88,330.79 463.75,331.25C465.62,331.71 466.35,333.54 466.88,334.00 M455.62,331.88L455.62,335.25 M477.50,333.12C478.33,331.46 481.04,324.94 482.50,323.12C483.96,321.31 484.90,322.25 486.25,322.25C487.60,322.25 489.38,322.25 490.62,323.12C491.88,324.00 492.19,326.94 493.75,327.50C495.31,328.06 497.92,326.67 500.00,326.50C502.08,326.33 504.58,326.33 506.25,326.50C507.92,326.67 509.38,327.33 510.00,327.50 M493.75,328.12C495.21,328.75 499.79,330.42 502.50,331.88C505.21,333.33 508.75,336.04 510.00,336.88 M477.50,333.12C478.33,333.33 480.94,333.23 482.50,334.38C484.06,335.52 485.42,338.96 486.88,340.00C488.33,341.04 489.58,339.90 491.25,340.62C492.92,341.35 495.73,343.02 496.88,344.38C498.02,345.73 497.29,347.81 498.12,348.75C498.96,349.69 500.73,348.96 501.88,350.00C503.02,351.04 504.48,353.23 505.00,355.00C505.52,356.77 504.38,358.96 505.00,360.62C505.62,362.29 507.92,364.06 508.75,365.00C509.58,365.94 509.79,366.04 510.00,366.25 M442.50,350.00C443.33,351.25 446.04,354.79 447.50,357.50C448.96,360.21 450.21,363.33 451.25,366.25C452.29,369.17 453.23,372.71 453.75,375.00C454.27,377.29 454.27,379.17 454.38,380.00 M379.38,370.25C379.90,371.04 381.67,373.38 382.50,375.00C383.33,376.62 384.06,379.17 384.38,380.00 M492.50,377.50L510.00,373.50 M506.88,345.62C506.77,346.35 506.15,348.54 506.25,350.00C506.35,351.46 506.88,353.33 507.50,354.38C508.12,355.42 509.58,355.94 510.00,356.25 M500.00,326.50C501.04,326.46 503.12,326.04 506.25,326.25C509.38,326.46 514.17,326.88 518.75,327.75C523.33,328.62 530.00,330.67 533.75,331.50C537.50,332.33 538.54,331.65 541.25,332.75C543.96,333.85 548.54,337.23 550.00,338.12 M533.75,331.88C535.21,332.81 540.21,335.94 542.50,337.50C544.79,339.06 546.67,340.62 547.50,341.25 M547.50,345.62C547.50,344.79 547.08,341.81 547.50,340.62C547.92,339.44 548.75,338.92 550.00,338.50C551.25,338.08 553.65,337.88 555.00,338.12C556.35,338.38 557.33,338.33 558.12,340.00C558.92,341.67 559.48,346.77 559.75,348.12C566.04,346.52 590.17,340.17 597.50,338.50C604.83,336.83 601.67,337.67 603.75,338.12C605.83,338.58 607.92,339.69 610.00,341.25C612.08,342.81 614.48,345.00 616.25,347.50C618.02,350.00 619.48,353.12 620.62,356.25C621.77,359.38 622.81,363.12 623.12,366.25C623.44,369.38 622.85,372.71 622.50,375.00C622.15,377.29 621.25,379.17 621.00,380.00 M608.75,340.62C609.79,340.83 613.12,340.83 615.00,341.88C616.88,342.92 618.33,344.69 620.00,346.88C621.67,349.06 623.85,352.40 625.00,355.00C626.15,357.60 626.62,359.58 626.88,362.50C627.12,365.42 627.12,369.58 626.50,372.50C625.88,375.42 623.69,378.75 623.12,380.00 M500.00,330.00C501.04,330.62 504.27,332.50 506.25,333.75C508.23,335.00 510.46,336.08 511.88,337.50C513.29,338.92 514.27,341.46 514.75,342.25C515.62,342.19 517.98,342.04 520.00,341.88C522.02,341.71 525.46,340.94 526.88,341.25C528.29,341.56 528.15,340.21 528.50,343.75C528.85,347.29 528.65,356.88 529.00,362.50C529.35,368.12 530.25,374.58 530.62,377.50C531.00,380.42 531.15,379.58 531.25,380.00 M514.75,342.50C513.75,342.75 510.12,343.17 508.75,344.00C507.38,344.83 506.81,345.88 506.50,347.50C506.19,349.12 506.08,352.08 506.88,353.75C507.67,355.42 510.21,356.04 511.25,357.50C512.29,358.96 512.75,361.15 513.12,362.50C513.50,363.85 513.44,365.10 513.50,365.62 M500.00,349.38C500.62,350.10 502.92,351.77 503.75,353.75C504.58,355.73 504.06,359.17 505.00,361.25C505.94,363.33 508.65,364.17 509.38,366.25C510.10,368.33 509.38,372.50 509.38,373.75L500.00,375.62 M509.38,373.75L510.62,380.00 M384.38,380.00C384.90,381.46 386.46,385.62 387.50,388.75C388.54,391.88 389.69,395.42 390.62,398.75C391.56,402.08 392.19,405.00 393.12,408.75C394.06,412.50 395.52,417.29 396.25,421.25C396.98,425.21 397.29,428.12 397.50,432.50C397.71,436.88 397.50,445.00 397.50,447.50 M350.00,410.62C350.83,410.83 352.50,411.98 355.00,411.88C357.50,411.77 361.67,410.77 365.00,410.00C368.33,409.23 371.88,408.29 375.00,407.25C378.12,406.21 381.15,405.06 383.75,403.75C386.35,402.44 387.92,400.52 390.62,399.38C393.33,398.23 397.50,397.40 400.00,396.88C402.50,396.35 404.69,396.35 405.62,396.25 M421.25,390.62C423.96,390.00 431.88,388.02 437.50,386.88C443.12,385.73 448.75,384.90 455.00,383.75C461.25,382.60 471.67,380.62 475.00,380.00 M454.38,380.00L455.62,383.75 M485.62,380.00C486.35,380.62 488.75,382.50 490.00,383.75C491.25,385.00 490.83,386.92 493.12,387.50C495.42,388.08 500.94,387.46 503.75,387.25C506.56,387.04 508.96,386.42 510.00,386.25 M374.38,413.12L374.38,420.62 M350.00,426.62C352.08,426.15 358.33,424.69 362.50,423.75C366.67,422.81 372.08,420.38 375.00,421.00C377.92,421.62 378.65,425.38 380.00,427.50C381.35,429.62 382.29,431.25 383.12,433.75C383.96,436.25 384.48,439.38 385.00,442.50C385.52,445.62 385.98,449.58 386.25,452.50C386.52,455.42 386.56,458.75 386.62,460.00 M419.38,400.00C419.69,402.08 420.62,407.50 421.25,412.50C421.88,417.50 422.71,424.58 423.12,430.00C423.54,435.42 423.69,440.52 423.75,445.00C423.81,449.48 423.54,454.90 423.50,456.88 M413.12,458.12C413.85,458.29 415.73,458.92 417.50,459.12C419.27,459.33 422.71,459.33 423.75,459.38 M446.25,460.00C446.46,458.33 447.25,452.50 447.50,450.00C447.75,447.50 447.33,446.25 447.75,445.00C448.17,443.75 447.54,443.65 450.00,442.50C452.46,441.35 459.90,438.81 462.50,438.12C465.10,437.44 463.65,437.75 465.62,438.38C467.60,439.00 472.92,441.29 474.38,441.88L475.00,460.00 M475.00,451.50C475.94,451.46 478.96,451.71 480.62,451.25C482.29,450.79 484.17,450.21 485.00,448.75C485.83,447.29 485.31,444.38 485.62,442.50C485.94,440.62 485.94,439.27 486.88,437.50C487.81,435.73 490.42,434.79 491.25,431.88C492.08,428.96 491.67,423.44 491.88,420.00C492.08,416.56 491.77,413.44 492.50,411.25C493.23,409.06 494.27,407.81 496.25,406.88C498.23,405.94 502.40,405.10 504.38,405.62C506.35,406.15 507.19,409.06 508.12,410.00C509.06,410.94 509.69,411.04 510.00,411.25 M510.62,380.00L510.62,383.12 M500.00,387.50L510.62,386.00 M532.50,380.00C533.33,380.42 535.83,381.35 537.50,382.50C539.17,383.65 541.67,385.00 542.50,386.88C543.33,388.75 544.38,391.88 542.50,393.75C540.62,395.62 534.58,397.19 531.25,398.12C527.92,399.06 525.21,399.38 522.50,399.38C519.79,399.38 517.19,398.44 515.00,398.12C512.81,397.81 510.31,397.60 509.38,397.50 M515.62,400.00L510.62,412.50C509.69,411.46 506.77,407.29 505.00,406.25C503.23,405.21 500.83,406.25 500.00,406.25 M531.25,398.50C532.29,401.67 535.42,410.58 537.50,417.50C539.58,424.42 541.67,432.92 543.75,440.00C545.83,447.08 548.96,456.67 550.00,460.00 M548.12,439.75C549.27,438.23 553.02,432.67 555.00,430.62C556.98,428.58 556.67,430.52 560.00,427.50C563.33,424.48 570.10,417.29 575.00,412.50C579.90,407.71 583.75,402.33 589.38,398.75C595.00,395.17 604.27,392.71 608.75,391.00C613.23,389.29 614.38,389.60 616.25,388.50C618.12,387.40 619.06,385.79 620.00,384.38C620.94,382.96 621.56,380.73 621.88,380.00 M608.75,391.25C608.75,397.29 609.06,420.73 608.75,427.50C608.44,434.27 607.60,430.73 606.88,431.88C606.15,433.02 604.79,433.96 604.38,434.38 M604.38,434.38C602.40,434.79 596.56,436.04 592.50,436.88C588.44,437.71 582.92,438.44 580.00,439.38C577.08,440.31 576.04,441.15 575.00,442.50C573.96,443.85 574.27,445.42 573.75,447.50C573.23,449.58 572.81,452.92 571.88,455.00C570.94,457.08 568.75,459.17 568.12,460.00 M575.00,442.50C575.83,442.60 576.98,442.75 580.00,443.12C583.02,443.50 590.21,444.23 593.12,444.75C596.04,445.27 595.94,446.17 597.50,446.25C599.06,446.33 601.29,445.98 602.50,445.25C603.71,444.52 604.38,443.69 604.75,441.88C605.12,440.06 604.75,435.62 604.75,434.38 M593.12,437.50L593.12,444.38 M529.38,449.12C529.90,449.58 531.81,450.69 532.50,451.88C533.19,453.06 533.50,454.90 533.50,456.25C533.50,457.60 532.67,459.38 532.50,460.00 M385.62,450.00C385.83,451.67 386.40,455.83 386.88,460.00C387.35,464.17 388.19,470.00 388.50,475.00C388.81,480.00 388.71,487.50 388.75,490.00C388.75,490.94 388.12,493.54 388.75,495.62C389.38,497.71 391.67,499.69 392.50,502.50C393.33,505.31 393.54,510.83 393.75,512.50 M388.75,490.00C390.62,489.48 396.04,487.96 400.00,486.88C403.96,485.79 408.33,484.54 412.50,483.50C416.67,482.46 422.29,481.62 425.00,480.62C427.71,479.62 428.02,478.85 428.75,477.50C429.48,476.15 429.38,474.58 429.38,472.50C429.38,470.42 428.85,466.25 428.75,465.00L446.25,460.62 M413.12,458.50C414.79,458.65 420.52,458.33 423.12,459.38C425.73,460.42 427.81,463.85 428.75,464.75 M423.75,450.00L423.75,456.88 M447.50,450.00C447.40,451.77 447.04,457.29 446.88,460.62C446.71,463.96 445.98,467.92 446.50,470.00C447.02,472.08 448.58,472.19 450.00,473.12C451.42,474.06 453.33,475.06 455.00,475.62C456.67,476.19 459.17,476.35 460.00,476.50 M438.12,468.50C438.44,469.17 438.65,471.21 440.00,472.50C441.35,473.79 444.69,474.79 446.25,476.25C447.81,477.71 448.79,477.29 449.38,481.25C449.96,485.21 449.85,496.46 449.75,500.00C449.65,503.54 448.81,501.25 448.75,502.50C448.69,503.75 449.27,506.67 449.38,507.50 M405.00,492.50C408.33,491.46 419.17,487.96 425.00,486.25C430.83,484.54 437.50,482.92 440.00,482.25 M376.25,501.50C377.71,501.04 382.92,499.67 385.00,498.75C387.08,497.83 388.12,496.46 388.75,496.00 M428.12,529.38C430.73,528.54 438.44,525.94 443.75,524.38C449.06,522.81 457.29,520.73 460.00,520.00 M446.50,460.00C446.46,461.67 445.46,467.81 446.25,470.00C447.04,472.19 449.27,472.04 451.25,473.12C453.23,474.21 455.83,476.19 458.12,476.50C460.42,476.81 462.19,475.92 465.00,475.00C467.81,474.08 471.46,472.08 475.00,471.00C478.54,469.92 484.38,468.92 486.25,468.50C486.35,467.40 487.92,463.40 486.88,461.88C485.83,460.35 482.02,459.58 480.00,459.38C477.98,459.17 475.62,460.42 474.75,460.62 M474.75,458.75L474.75,462.50 M486.88,465.00C487.60,465.42 490.48,466.04 491.25,467.50C492.02,468.96 491.75,471.46 491.50,473.75C491.25,476.04 490.21,477.81 489.75,481.25C489.29,484.69 488.92,492.19 488.75,494.38 M506.25,463.50L526.00,458.38 M529.38,449.00C529.90,449.48 531.81,450.67 532.50,451.88C533.19,453.08 533.75,454.38 533.50,456.25C533.25,458.12 531.54,460.21 531.00,463.12C530.46,466.04 530.52,470.62 530.25,473.75C529.98,476.88 529.52,480.52 529.38,481.88 M550.00,460.00L553.50,471.25 M568.12,460.00C567.60,460.42 566.04,461.56 565.00,462.50C563.96,463.44 563.33,464.69 561.88,465.62C560.42,466.56 557.65,467.19 556.25,468.12C554.85,469.06 553.96,470.73 553.50,471.25 M553.50,471.25L553.50,485.62C552.50,485.94 548.60,486.67 547.50,487.50C546.40,488.33 547.92,489.27 546.88,490.62C545.83,491.98 543.65,494.44 541.25,495.62C538.85,496.81 534.79,496.98 532.50,497.75C530.21,498.52 532.50,498.73 527.50,500.25C522.50,501.77 511.25,504.31 502.50,506.88C493.75,509.44 481.88,513.54 475.00,515.62C468.12,517.71 463.54,518.75 461.25,519.38 M310.00,565.40L428.00,529.40"/>
<path class="l k2" d="M79.75,334.38L79.75,345.62 M160.00,376.25L160.00,382.50 M239.00,409.75L239.00,415.25 M79.12,484.38L80.00,493.12 M319.12,507.25L319.12,514.38 M799.88,215.66L800.43,222.22 M785.39,214.46L788.39,214.84 M799.61,223.86C799.29,224.41 798.06,226.14 797.69,227.15C797.33,228.15 797.47,229.43 797.42,229.88 M1103.68,465.57C1103.27,466.17 1101.72,467.90 1101.21,469.13C1100.71,470.36 1100.76,472.32 1100.67,472.96 M639.00,274.38L639.75,281.25 M959.25,240.00L960.00,243.75 M422.50,336.25C422.92,336.15 424.58,335.42 425.00,335.62C425.42,335.83 425.31,337.08 425.00,337.50C424.69,337.92 423.54,338.33 423.12,338.12C422.71,337.92 422.60,336.56 422.50,336.25 M509.62,366.25L509.62,373.12 M558.75,340.62L560.00,348.12"/>
<path class="l k3" d="M960.34,155.39L961.27,160.04"/>
<path class="l f" d="M1118.99,474.60L1122.28,474.60L1118.99,478.43L1118.99,474.60 M1072.50,333.12L1075.00,348.12L1079.38,346.25L1072.50,333.12 M1017.50,498.75L1013.12,485.00L1019.00,484.38L1017.50,498.75"/>
<g><title>35115C</title><path class="l t" d="M134.25,180.15L136.17,177.56L142.11,177.56L143.83,179.24L143.83,182.09L142.11,183.64L138.27,183.64M142.11,183.64L143.83,185.32L143.83,188.82L142.11,190.50L136.17,190.50L134.25,188.17M158.25,177.56L148.67,177.56L148.67,182.48L155.85,182.48L158.25,184.42L158.25,188.69L155.85,190.50L150.58,190.50L148.67,188.56M163.09,180.28L166.17,177.56L166.17,190.50M163.09,190.50L168.31,190.50M173.15,180.28L176.23,177.56L176.23,190.50M173.15,190.50L178.37,190.50M192.79,177.56L183.21,177.56L183.21,182.48L190.40,182.48L192.79,184.42L192.79,188.69L190.40,190.50L185.13,190.50L183.21,188.56M207.50,179.89L205.53,177.56L199.60,177.56L197.63,179.50L197.63,188.56L199.80,190.50L205.53,190.50L207.50,188.30"/></g>
<g><title>35147</title><path class="l t" d="M255.25,255.02L257.14,252.40L263.00,252.40L264.70,254.10L264.70,256.99L263.00,258.56L259.22,258.56M263.00,258.56L264.70,260.26L264.70,263.80L263.00,265.50L257.14,265.50L255.25,263.14M278.93,252.40L269.47,252.40L269.47,257.38L276.56,257.38L278.93,259.34L278.93,263.67L276.56,265.50L271.37,265.50L269.47,263.54M283.70,255.15L286.74,252.40L286.74,265.50M283.70,265.50L288.85,265.50M300.34,265.50L300.34,252.40L293.63,260.13L303.08,260.13M307.85,252.40L317.40,252.40L310.43,265.50"/></g>
<g><title>99079</title><path class="l t" d="M640.62,204.67L633.26,204.67L630.80,203.03L630.80,200.37L633.26,198.60L638.66,198.60L640.62,200.62L640.62,206.44L635.42,211.25L633.26,211.25M655.35,204.67L647.99,204.67L645.53,203.03L645.53,200.37L647.99,198.60L653.39,198.60L655.35,200.62L655.35,206.44L650.15,211.25L647.99,211.25M662.26,198.60L664.94,198.60L666.94,200.37L666.94,209.48L664.94,211.25L662.26,211.25L660.26,209.48L660.26,200.37ZM671.85,198.60L681.67,198.60L674.50,211.25M696.40,204.67L689.03,204.67L686.58,203.03L686.58,200.37L689.03,198.60L694.44,198.60L696.40,200.62L696.40,206.44L691.20,211.25L689.03,211.25"/></g>
<g><title>A60808</title><path class="l t" d="M744.40,172.35L744.40,167.21L748.48,159.50L753.47,167.21L753.47,172.35M744.40,167.21L753.47,167.21M765.59,159.50L762.59,160.53L758.51,163.74L758.51,170.42L760.32,172.35L765.77,172.35L767.58,170.42L767.58,166.95L765.77,165.15L758.51,165.15M774.68,159.50L777.42,159.50L779.47,161.30L779.47,170.55L777.42,172.35L774.68,172.35L772.62,170.55L772.62,161.30ZM787.01,159.50L792.00,159.50L794.19,160.78L794.19,163.87L792.00,165.15L787.01,165.15L784.81,163.87L784.81,160.78ZM787.01,165.15L792.00,165.15L794.49,166.82L794.49,170.81L792.00,172.35L787.01,172.35L784.51,170.81L784.51,166.82ZM801.59,159.50L804.33,159.50L806.38,161.30L806.38,170.55L804.33,172.35L801.59,172.35L799.53,170.55L799.53,161.30ZM813.92,159.50L818.91,159.50L821.10,160.78L821.10,163.87L818.91,165.15L813.92,165.15L811.72,163.87L811.72,160.78ZM813.92,165.15L818.91,165.15L821.40,166.82L821.40,170.81L818.91,172.35L813.92,172.35L811.42,170.81L811.42,166.82Z"/></g>
<g><title>W170062</title><path class="l t" d="M761.50,307.55L765.54,320.30L768.32,313.42L770.69,320.30L775.42,307.55M780.40,310.23L783.56,307.55L783.56,320.30M780.40,320.30L785.77,320.30M790.74,307.55L800.68,307.55L793.42,320.30M807.69,307.55L810.39,307.55L812.42,309.34L812.42,318.51L810.39,320.30L807.69,320.30L805.66,318.51L805.66,309.34ZM819.42,307.55L822.13,307.55L824.16,309.34L824.16,318.51L822.13,320.30L819.42,320.30L817.39,318.51L817.39,309.34ZM836.11,307.55L833.16,308.57L829.13,311.76L829.13,318.39L830.92,320.30L836.29,320.30L838.08,318.39L838.08,314.94L836.29,313.16L829.13,313.16M843.05,309.97L845.11,307.55L850.34,307.55L852.40,309.59L852.40,312.01L850.34,313.67L845.11,314.44L843.05,316.48L843.05,320.30L852.40,320.30"/></g>
<g><title>W170062</title><path class="l t" d="M689.90,349.40L693.96,361.90L696.77,355.15L699.15,361.90L703.92,349.40M708.92,352.02L712.11,349.40L712.11,361.90M708.92,361.90L714.33,361.90M719.33,349.40L729.34,349.40L722.04,361.90M736.39,349.40L739.11,349.40L741.16,351.15L741.16,360.15L739.11,361.90L736.39,361.90L734.35,360.15L734.35,351.15ZM748.20,349.40L750.93,349.40L752.97,351.15L752.97,360.15L750.93,361.90L748.20,361.90L746.16,360.15L746.16,351.15ZM765.00,349.40L762.03,350.40L757.97,353.52L757.97,360.02L759.78,361.90L765.18,361.90L766.98,360.02L766.98,356.65L765.18,354.90L757.97,354.90M771.99,351.77L774.06,349.40L779.33,349.40L781.40,351.40L781.40,353.77L779.33,355.40L774.06,356.15L771.99,358.15L771.99,361.90L781.40,361.90"/></g>
<g><title>A60808</title><path class="l t" d="M1004.25,169.70L1004.25,164.58L1008.35,156.90L1013.35,164.58L1013.35,169.70M1004.25,164.58L1013.35,164.58M1025.50,156.90L1022.50,157.92L1018.41,161.12L1018.41,167.78L1020.23,169.70L1025.69,169.70L1027.51,167.78L1027.51,164.32L1025.69,162.53L1018.41,162.53M1034.62,156.90L1037.37,156.90L1039.44,158.69L1039.44,167.91L1037.37,169.70L1034.62,169.70L1032.56,167.91L1032.56,158.69ZM1047.00,156.90L1052.00,156.90L1054.20,158.18L1054.20,161.25L1052.00,162.53L1047.00,162.53L1044.79,161.25L1044.79,158.18ZM1047.00,162.53L1052.00,162.53L1054.50,164.20L1054.50,168.16L1052.00,169.70L1047.00,169.70L1044.49,168.16L1044.49,164.20ZM1061.62,156.90L1064.37,156.90L1066.43,158.69L1066.43,167.91L1064.37,169.70L1061.62,169.70L1059.56,167.91L1059.56,158.69ZM1073.99,156.90L1079.00,156.90L1081.20,158.18L1081.20,161.25L1079.00,162.53L1073.99,162.53L1071.79,161.25L1071.79,158.18ZM1073.99,162.53L1079.00,162.53L1081.50,164.20L1081.50,168.16L1079.00,169.70L1073.99,169.70L1071.49,168.16L1071.49,164.20Z"/></g>
<g><title>31911</title><path class="l t" d="M1123.00,252.26L1124.85,249.70L1130.60,249.70L1132.26,251.36L1132.26,254.18L1130.60,255.72L1126.89,255.72M1130.60,255.72L1132.26,257.38L1132.26,260.84L1130.60,262.50L1124.85,262.50L1123.00,260.20M1136.94,252.39L1139.93,249.70L1139.93,262.50M1136.94,262.50L1142.00,262.50M1156.03,255.84L1149.02,255.84L1146.68,254.18L1146.68,251.49L1149.02,249.70L1154.16,249.70L1156.03,251.75L1156.03,257.64L1151.07,262.50L1149.02,262.50M1160.71,252.39L1163.70,249.70L1163.70,262.50M1160.71,262.50L1165.77,262.50M1170.45,252.39L1173.43,249.70L1173.43,262.50M1170.45,262.50L1175.50,262.50"/></g>
<g><title>21623*A</title><path class="l t" d="M1046.00,289.17L1048.08,286.75L1053.37,286.75L1055.45,288.79L1055.45,291.21L1053.37,292.87L1048.08,293.63L1046.00,295.68L1046.00,299.50L1055.45,299.50M1060.47,289.43L1063.67,286.75L1063.67,299.50M1060.47,299.50L1065.90,299.50M1077.98,286.75L1074.99,287.77L1070.92,290.96L1070.92,297.59L1072.73,299.50L1078.16,299.50L1079.97,297.59L1079.97,294.14L1078.16,292.36L1070.92,292.36M1084.99,289.17L1087.07,286.75L1092.36,286.75L1094.44,288.79L1094.44,291.21L1092.36,292.87L1087.07,293.63L1084.99,295.68L1084.99,299.50L1094.44,299.50M1099.46,289.30L1101.45,286.75L1107.62,286.75L1109.41,288.41L1109.41,291.21L1107.62,292.74L1103.64,292.74M1107.62,292.74L1109.41,294.40L1109.41,297.84L1107.62,299.50L1101.45,299.50L1099.46,297.20M1119.31,288.54L1119.31,297.97M1114.43,289.81L1124.18,297.46M1124.18,289.05L1114.43,297.71M1129.21,299.50L1129.21,294.40L1133.28,286.75L1138.25,294.40L1138.25,299.50M1129.21,294.40L1138.25,294.40"/></g>
<g><title>FIG.154</title><path class="l t" d="M1045.98,317.50L1035.50,317.50L1035.50,330.25M1035.50,323.37L1041.58,323.37M1050.83,317.50L1054.90,317.50M1052.86,317.50L1052.86,330.25M1050.83,330.25L1054.90,330.25M1069.65,317.50L1061.93,317.50L1059.75,319.80L1059.75,327.32L1062.22,330.25L1069.65,330.25L1069.65,323.11L1065.69,323.11M1074.50,326.68L1074.50,330.25M1079.35,320.18L1082.45,317.50L1082.45,330.25M1079.35,330.25L1084.59,330.25M1099.05,317.50L1089.44,317.50L1089.44,322.35L1096.65,322.35L1099.05,324.26L1099.05,328.46L1096.65,330.25L1091.36,330.25L1089.44,328.34M1110.72,330.25L1110.72,317.50L1103.90,325.02L1113.50,325.02"/></g>
<g><title>21623*B</title><path class="l t" d="M1142.50,385.82L1144.56,383.40L1149.79,383.40L1151.85,385.44L1151.85,387.86L1149.79,389.52L1144.56,390.28L1142.50,392.32L1142.50,396.15L1151.85,396.15M1156.82,386.08L1159.99,383.40L1159.99,396.15M1156.82,396.15L1162.19,396.15M1174.15,383.40L1171.19,384.42L1167.17,387.61L1167.17,394.24L1168.96,396.15L1174.33,396.15L1176.12,394.24L1176.12,390.79L1174.33,389.01L1167.17,389.01M1181.09,385.82L1183.15,383.40L1188.38,383.40L1190.44,385.44L1190.44,387.86L1188.38,389.52L1183.15,390.28L1181.09,392.32L1181.09,396.15L1190.44,396.15M1195.41,385.95L1197.38,383.40L1203.49,383.40L1205.26,385.06L1205.26,387.86L1203.49,389.39L1199.55,389.39M1203.49,389.39L1205.26,391.05L1205.26,394.49L1203.49,396.15L1197.38,396.15L1195.41,393.85M1215.06,385.19L1215.06,394.62M1210.23,386.46L1219.88,394.11M1219.88,385.69L1210.23,394.36M1224.85,383.40L1232.57,383.40L1234.50,384.80L1234.50,387.99L1232.57,389.65L1226.78,389.65M1232.57,389.65L1234.50,391.18L1234.50,394.75L1232.57,396.15L1224.85,396.15M1226.78,383.40L1226.78,396.15"/></g>
<g><title>FIG.154</title><path class="l t" d="M989.63,502.50L979.25,502.50L979.25,515.25M979.25,508.37L985.27,508.37M994.43,502.50L998.46,502.50M996.45,502.50L996.45,515.25M994.43,515.25L998.46,515.25M1013.07,502.50L1005.42,502.50L1003.27,504.80L1003.27,512.32L1005.72,515.25L1013.07,515.25L1013.07,508.11L1009.15,508.11M1017.87,511.68L1017.87,515.25M1022.68,505.18L1025.74,502.50L1025.74,515.25M1022.68,515.25L1027.87,515.25M1042.19,502.50L1032.67,502.50L1032.67,507.35L1039.81,507.35L1042.19,509.26L1042.19,513.47L1039.81,515.25L1034.58,515.25L1032.67,513.34M1053.74,515.25L1053.74,502.50L1046.99,510.02L1056.50,510.02"/></g>
<g><title>A60808</title><path class="l t" d="M1072.50,541.25L1072.50,536.15L1076.58,528.50L1081.57,536.15L1081.57,541.25M1072.50,536.15L1081.57,536.15M1093.69,528.50L1090.69,529.52L1086.61,532.71L1086.61,539.34L1088.42,541.25L1093.87,541.25L1095.68,539.34L1095.68,535.89L1093.87,534.11L1086.61,534.11M1102.78,528.50L1105.52,528.50L1107.57,530.28L1107.57,539.47L1105.52,541.25L1102.78,541.25L1100.72,539.47L1100.72,530.28ZM1115.11,528.50L1120.10,528.50L1122.29,529.77L1122.29,532.84L1120.10,534.11L1115.11,534.11L1112.91,532.84L1112.91,529.77ZM1115.11,534.11L1120.10,534.11L1122.59,535.77L1122.59,539.72L1120.10,541.25L1115.11,541.25L1112.61,539.72L1112.61,535.77ZM1129.69,528.50L1132.43,528.50L1134.48,530.28L1134.48,539.47L1132.43,541.25L1129.69,541.25L1127.63,539.47L1127.63,530.28ZM1142.02,528.50L1147.01,528.50L1149.20,529.77L1149.20,532.84L1147.01,534.11L1142.02,534.11L1139.82,532.84L1139.82,529.77ZM1142.02,534.11L1147.01,534.11L1149.50,535.77L1149.50,539.72L1147.01,541.25L1142.02,541.25L1139.52,539.72L1139.52,535.77Z"/></g>
<g><title>A150001618</title><path class="l t" d="M1153.25,626.50L1158.32,614.50L1163.38,626.50M1154.67,622.90L1161.96,622.90M1168.30,617.02L1171.44,614.50L1171.44,626.50M1168.30,626.50L1173.62,626.50M1188.27,614.50L1178.53,614.50L1178.53,619.06L1185.84,619.06L1188.27,620.86L1188.27,624.82L1185.84,626.50L1180.48,626.50L1178.53,624.70M1195.20,614.50L1197.88,614.50L1199.88,616.18L1199.88,624.82L1197.88,626.50L1195.20,626.50L1193.19,624.82L1193.19,616.18ZM1206.81,614.50L1209.49,614.50L1211.49,616.18L1211.49,624.82L1209.49,626.50L1206.81,626.50L1204.80,624.82L1204.80,616.18ZM1218.42,614.50L1221.10,614.50L1223.10,616.18L1223.10,624.82L1221.10,626.50L1218.42,626.50L1216.41,624.82L1216.41,616.18ZM1228.02,617.02L1231.16,614.50L1231.16,626.50M1228.02,626.50L1233.33,626.50M1245.16,614.50L1242.24,615.46L1238.25,618.46L1238.25,624.70L1240.03,626.50L1245.34,626.50L1247.11,624.70L1247.11,621.46L1245.34,619.78L1238.25,619.78M1252.03,617.02L1255.16,614.50L1255.16,626.50M1252.03,626.50L1257.34,626.50M1264.69,614.50L1269.56,614.50L1271.71,615.70L1271.71,618.58L1269.56,619.78L1264.69,619.78L1262.55,618.58L1262.55,615.70ZM1264.69,619.78L1269.56,619.78L1272.00,621.34L1272.00,625.06L1269.56,626.50L1264.69,626.50L1262.26,625.06L1262.26,621.34Z"/></g>
<g><title>FRONT</title><path class="l t" d="M638.52,522.95L639.51,507.19L647.95,502.97 M638.95,515.21L644.57,512.82 M650.76,516.34L652.17,500.86L660.32,497.07L661.03,501.85L651.88,507.19 M655.40,505.79L659.90,511.41 M663.14,509.30L664.54,493.83L672.98,490.04L671.58,505.08Z M675.51,502.97L677.20,487.50L685.64,498.05L687.33,482.58 M687.75,480.19L696.89,475.13 M692.39,477.94L693.38,492.43"/></g>
<path class="l ar" d="M633.60,512.12L616.02,521.96L616.72,510.01L600.97,537.43L616.02,546.58L616.02,533.92L633.60,525.48"/>
</svg>
</body></html>
